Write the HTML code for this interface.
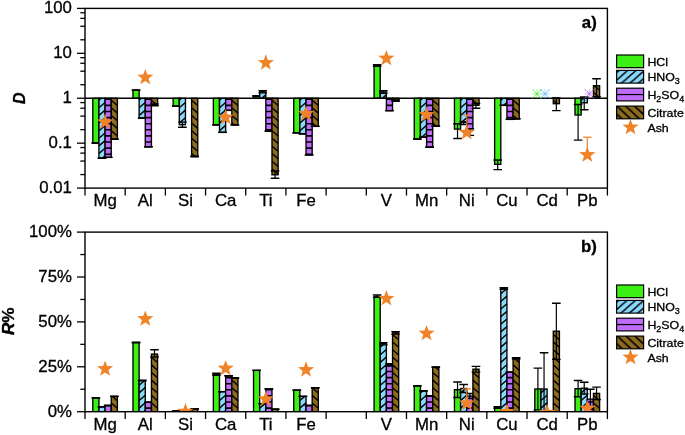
<!DOCTYPE html><html><head><meta charset="utf-8"><style>html,body{margin:0;padding:0;background:#fff;}body{width:685px;height:435px;position:relative;overflow:hidden;font-family:"Liberation Sans",sans-serif;}</style></head><body><svg width="685" height="435" viewBox="0 0 685 435" style="position:absolute;left:0;top:0;will-change:transform">
<defs>
<pattern id="hb" patternUnits="userSpaceOnUse" width="8.80" height="7.40" x="0.00" y="0.00"><rect width="8.80" height="7.40" fill="#8ad8fa"/><path d="M-4.40,3.70 L4.40,-3.70 M-4.40,11.10 L13.20,-3.70 M4.40,11.10 L13.20,3.70" stroke="#000" stroke-width="1.35"/></pattern>
<pattern id="hbr" patternUnits="userSpaceOnUse" width="8.80" height="7.40" x="0.00" y="0.00"><rect width="8.80" height="7.40" fill="#8c6a1e"/><path d="M-4.40,3.70 L4.40,11.10 M-4.40,-3.70 L13.20,11.10 M4.40,-3.70 L13.20,3.70" stroke="#000" stroke-width="1.35"/></pattern>
<pattern id="lb" patternUnits="userSpaceOnUse" width="8.40" height="7.40" x="2.00" y="0.00"><rect width="8.40" height="7.40" fill="#8ad8fa"/><path d="M-4.20,3.70 L4.20,-3.70 M-4.20,11.10 L12.60,-3.70 M4.20,11.10 L12.60,3.70" stroke="#000" stroke-width="1.55"/></pattern>
<pattern id="lbr" patternUnits="userSpaceOnUse" width="8.80" height="8.20" x="1.50" y="0.00"><rect width="8.80" height="8.20" fill="#8c6a1e"/><path d="M-4.40,4.10 L4.40,12.30 M-4.40,-4.10 L13.20,12.30 M4.40,-4.10 L13.20,4.10" stroke="#000" stroke-width="1.55"/></pattern>
<pattern id="hp" patternUnits="userSpaceOnUse" width="6.1" height="6.1" y="2.3"><rect width="6.1" height="6.1" fill="#bf6cfa"/><path d="M0,3 H6.1" stroke="#000" stroke-width="1.3"/></pattern>
<clipPath id="c1"><rect x="85.00" y="8.40" width="522.40" height="179.70"/></clipPath>
<clipPath id="c2"><rect x="85.00" y="232.10" width="522.40" height="179.60"/></clipPath>
</defs>
<rect width="685" height="435" fill="#fff"/>
<g clip-path="url(#c1)">
<rect x="92.79" y="98.30" width="6.15" height="44.70" fill="#3cf014"/><rect x="92.79" y="98.30" width="6.15" height="44.70" fill="none" stroke="#000" stroke-width="1.35"/><line x1="95.87" y1="143.00" x2="95.87" y2="143.00" stroke="#000" stroke-width="1.2"/><line x1="91.57" y1="143.00" x2="100.17" y2="143.00" stroke="#000" stroke-width="1.4"/><line x1="91.57" y1="143.00" x2="100.17" y2="143.00" stroke="#000" stroke-width="1.4"/>
<rect x="98.94" y="98.30" width="6.15" height="60.00" fill="#8ad8fa"/><line x1="98.94" y1="100.18" x2="101.13" y2="98.30" stroke="#000" stroke-width="1.40"/><line x1="98.94" y1="107.80" x2="105.09" y2="102.51" stroke="#000" stroke-width="1.40"/><line x1="98.94" y1="115.42" x2="105.09" y2="110.13" stroke="#000" stroke-width="1.40"/><line x1="98.94" y1="123.04" x2="105.09" y2="117.75" stroke="#000" stroke-width="1.40"/><line x1="98.94" y1="130.66" x2="105.09" y2="125.37" stroke="#000" stroke-width="1.40"/><line x1="98.94" y1="138.28" x2="105.09" y2="132.99" stroke="#000" stroke-width="1.40"/><line x1="98.94" y1="145.90" x2="105.09" y2="140.61" stroke="#000" stroke-width="1.40"/><line x1="98.94" y1="153.52" x2="105.09" y2="148.23" stroke="#000" stroke-width="1.40"/><line x1="102.24" y1="158.30" x2="105.09" y2="155.85" stroke="#000" stroke-width="1.40"/><rect x="98.94" y="98.30" width="6.15" height="60.00" fill="none" stroke="#000" stroke-width="1.35"/><line x1="102.02" y1="158.30" x2="102.02" y2="158.30" stroke="#000" stroke-width="1.2"/><line x1="97.72" y1="158.30" x2="106.32" y2="158.30" stroke="#000" stroke-width="1.4"/><line x1="97.72" y1="158.30" x2="106.32" y2="158.30" stroke="#000" stroke-width="1.4"/>
<rect x="105.09" y="98.30" width="6.15" height="59.10" fill="#bf6cfa"/><line x1="105.09" y1="99.30" x2="111.24" y2="99.30" stroke="#000" stroke-width="1.60"/><line x1="105.09" y1="105.40" x2="111.24" y2="105.40" stroke="#000" stroke-width="1.60"/><line x1="105.09" y1="111.50" x2="111.24" y2="111.50" stroke="#000" stroke-width="1.60"/><line x1="105.09" y1="117.60" x2="111.24" y2="117.60" stroke="#000" stroke-width="1.60"/><line x1="105.09" y1="123.70" x2="111.24" y2="123.70" stroke="#000" stroke-width="1.60"/><line x1="105.09" y1="129.80" x2="111.24" y2="129.80" stroke="#000" stroke-width="1.60"/><line x1="105.09" y1="135.90" x2="111.24" y2="135.90" stroke="#000" stroke-width="1.60"/><line x1="105.09" y1="142.00" x2="111.24" y2="142.00" stroke="#000" stroke-width="1.60"/><line x1="105.09" y1="148.10" x2="111.24" y2="148.10" stroke="#000" stroke-width="1.60"/><line x1="105.09" y1="154.20" x2="111.24" y2="154.20" stroke="#000" stroke-width="1.60"/><rect x="105.09" y="98.30" width="6.15" height="59.10" fill="none" stroke="#000" stroke-width="1.35"/><line x1="108.17" y1="157.40" x2="108.17" y2="157.40" stroke="#000" stroke-width="1.2"/><line x1="103.87" y1="157.40" x2="112.47" y2="157.40" stroke="#000" stroke-width="1.4"/><line x1="103.87" y1="157.40" x2="112.47" y2="157.40" stroke="#000" stroke-width="1.4"/>
<rect x="111.24" y="98.30" width="6.15" height="40.90" fill="#8c6a1e"/><line x1="111.24" y1="100.20" x2="117.39" y2="105.49" stroke="#000" stroke-width="1.40"/><line x1="111.24" y1="107.82" x2="117.39" y2="113.11" stroke="#000" stroke-width="1.40"/><line x1="111.24" y1="115.44" x2="117.39" y2="120.73" stroke="#000" stroke-width="1.40"/><line x1="111.24" y1="123.06" x2="117.39" y2="128.35" stroke="#000" stroke-width="1.40"/><line x1="111.24" y1="130.68" x2="117.39" y2="135.97" stroke="#000" stroke-width="1.40"/><line x1="111.24" y1="138.30" x2="112.29" y2="139.20" stroke="#000" stroke-width="1.40"/><rect x="111.24" y="98.30" width="6.15" height="40.90" fill="none" stroke="#000" stroke-width="1.35"/><line x1="114.32" y1="139.20" x2="114.32" y2="139.20" stroke="#000" stroke-width="1.2"/><line x1="110.02" y1="139.20" x2="118.62" y2="139.20" stroke="#000" stroke-width="1.4"/><line x1="110.02" y1="139.20" x2="118.62" y2="139.20" stroke="#000" stroke-width="1.4"/>
<rect x="132.98" y="90.10" width="6.15" height="8.20" fill="#3cf014"/><rect x="132.98" y="90.10" width="6.15" height="8.20" fill="none" stroke="#000" stroke-width="1.35"/><line x1="136.05" y1="90.10" x2="136.05" y2="90.10" stroke="#000" stroke-width="1.2"/><line x1="131.75" y1="90.10" x2="140.35" y2="90.10" stroke="#000" stroke-width="1.4"/><line x1="131.75" y1="90.10" x2="140.35" y2="90.10" stroke="#000" stroke-width="1.4"/>
<rect x="139.13" y="98.30" width="6.15" height="19.80" fill="#8ad8fa"/><line x1="139.13" y1="100.18" x2="141.31" y2="98.30" stroke="#000" stroke-width="1.40"/><line x1="139.13" y1="107.80" x2="145.28" y2="102.51" stroke="#000" stroke-width="1.40"/><line x1="139.13" y1="115.42" x2="145.28" y2="110.13" stroke="#000" stroke-width="1.40"/><line x1="144.87" y1="118.10" x2="145.28" y2="117.75" stroke="#000" stroke-width="1.40"/><rect x="139.13" y="98.30" width="6.15" height="19.80" fill="none" stroke="#000" stroke-width="1.35"/><line x1="142.20" y1="118.10" x2="142.20" y2="118.10" stroke="#000" stroke-width="1.2"/><line x1="137.90" y1="118.10" x2="146.50" y2="118.10" stroke="#000" stroke-width="1.4"/><line x1="137.90" y1="118.10" x2="146.50" y2="118.10" stroke="#000" stroke-width="1.4"/>
<rect x="145.28" y="98.30" width="6.15" height="48.40" fill="#bf6cfa"/><line x1="145.28" y1="99.30" x2="151.43" y2="99.30" stroke="#000" stroke-width="1.60"/><line x1="145.28" y1="105.40" x2="151.43" y2="105.40" stroke="#000" stroke-width="1.60"/><line x1="145.28" y1="111.50" x2="151.43" y2="111.50" stroke="#000" stroke-width="1.60"/><line x1="145.28" y1="117.60" x2="151.43" y2="117.60" stroke="#000" stroke-width="1.60"/><line x1="145.28" y1="123.70" x2="151.43" y2="123.70" stroke="#000" stroke-width="1.60"/><line x1="145.28" y1="129.80" x2="151.43" y2="129.80" stroke="#000" stroke-width="1.60"/><line x1="145.28" y1="135.90" x2="151.43" y2="135.90" stroke="#000" stroke-width="1.60"/><line x1="145.28" y1="142.00" x2="151.43" y2="142.00" stroke="#000" stroke-width="1.60"/><rect x="145.28" y="98.30" width="6.15" height="48.40" fill="none" stroke="#000" stroke-width="1.35"/><line x1="148.35" y1="146.70" x2="148.35" y2="146.70" stroke="#000" stroke-width="1.2"/><line x1="144.05" y1="146.70" x2="152.65" y2="146.70" stroke="#000" stroke-width="1.4"/><line x1="144.05" y1="146.70" x2="152.65" y2="146.70" stroke="#000" stroke-width="1.4"/>
<rect x="151.43" y="98.30" width="6.15" height="6.40" fill="#8c6a1e"/><line x1="151.43" y1="100.20" x2="156.66" y2="104.70" stroke="#000" stroke-width="1.40"/><rect x="151.43" y="98.30" width="6.15" height="6.40" fill="none" stroke="#000" stroke-width="1.35"/><line x1="154.50" y1="103.90" x2="154.50" y2="105.70" stroke="#000" stroke-width="1.2"/><line x1="150.20" y1="103.90" x2="158.80" y2="103.90" stroke="#000" stroke-width="1.4"/><line x1="150.20" y1="105.70" x2="158.80" y2="105.70" stroke="#000" stroke-width="1.4"/>
<rect x="173.16" y="98.30" width="6.15" height="8.00" fill="#3cf014"/><rect x="173.16" y="98.30" width="6.15" height="8.00" fill="none" stroke="#000" stroke-width="1.35"/><line x1="176.24" y1="106.30" x2="176.24" y2="106.30" stroke="#000" stroke-width="1.2"/><line x1="171.94" y1="106.30" x2="180.54" y2="106.30" stroke="#000" stroke-width="1.4"/><line x1="171.94" y1="106.30" x2="180.54" y2="106.30" stroke="#000" stroke-width="1.4"/>
<rect x="179.31" y="98.30" width="6.15" height="26.40" fill="#8ad8fa"/><line x1="179.31" y1="100.18" x2="181.50" y2="98.30" stroke="#000" stroke-width="1.40"/><line x1="179.31" y1="107.80" x2="185.46" y2="102.51" stroke="#000" stroke-width="1.40"/><line x1="179.31" y1="115.42" x2="185.46" y2="110.13" stroke="#000" stroke-width="1.40"/><line x1="179.31" y1="123.04" x2="185.46" y2="117.75" stroke="#000" stroke-width="1.40"/><rect x="179.31" y="98.30" width="6.15" height="26.40" fill="none" stroke="#000" stroke-width="1.35"/><line x1="182.39" y1="122.10" x2="182.39" y2="127.20" stroke="#000" stroke-width="1.2"/><line x1="178.09" y1="122.10" x2="186.69" y2="122.10" stroke="#000" stroke-width="1.4"/><line x1="178.09" y1="127.20" x2="186.69" y2="127.20" stroke="#000" stroke-width="1.4"/>
<rect x="191.61" y="98.30" width="6.15" height="58.20" fill="#8c6a1e"/><line x1="191.61" y1="100.20" x2="197.76" y2="105.49" stroke="#000" stroke-width="1.40"/><line x1="191.61" y1="107.82" x2="197.76" y2="113.11" stroke="#000" stroke-width="1.40"/><line x1="191.61" y1="115.44" x2="197.76" y2="120.73" stroke="#000" stroke-width="1.40"/><line x1="191.61" y1="123.06" x2="197.76" y2="128.35" stroke="#000" stroke-width="1.40"/><line x1="191.61" y1="130.68" x2="197.76" y2="135.97" stroke="#000" stroke-width="1.40"/><line x1="191.61" y1="138.30" x2="197.76" y2="143.59" stroke="#000" stroke-width="1.40"/><line x1="191.61" y1="145.92" x2="197.76" y2="151.21" stroke="#000" stroke-width="1.40"/><line x1="191.61" y1="153.54" x2="195.05" y2="156.50" stroke="#000" stroke-width="1.40"/><rect x="191.61" y="98.30" width="6.15" height="58.20" fill="none" stroke="#000" stroke-width="1.35"/><line x1="194.69" y1="156.50" x2="194.69" y2="156.50" stroke="#000" stroke-width="1.2"/><line x1="190.39" y1="156.50" x2="198.99" y2="156.50" stroke="#000" stroke-width="1.4"/><line x1="190.39" y1="156.50" x2="198.99" y2="156.50" stroke="#000" stroke-width="1.4"/>
<rect x="213.35" y="98.30" width="6.15" height="26.60" fill="#3cf014"/><rect x="213.35" y="98.30" width="6.15" height="26.60" fill="none" stroke="#000" stroke-width="1.35"/><line x1="216.42" y1="124.90" x2="216.42" y2="124.90" stroke="#000" stroke-width="1.2"/><line x1="212.12" y1="124.90" x2="220.72" y2="124.90" stroke="#000" stroke-width="1.4"/><line x1="212.12" y1="124.90" x2="220.72" y2="124.90" stroke="#000" stroke-width="1.4"/>
<rect x="219.50" y="98.30" width="6.15" height="34.10" fill="#8ad8fa"/><line x1="219.50" y1="100.18" x2="221.68" y2="98.30" stroke="#000" stroke-width="1.40"/><line x1="219.50" y1="107.80" x2="225.65" y2="102.51" stroke="#000" stroke-width="1.40"/><line x1="219.50" y1="115.42" x2="225.65" y2="110.13" stroke="#000" stroke-width="1.40"/><line x1="219.50" y1="123.04" x2="225.65" y2="117.75" stroke="#000" stroke-width="1.40"/><line x1="219.50" y1="130.66" x2="225.65" y2="125.37" stroke="#000" stroke-width="1.40"/><rect x="219.50" y="98.30" width="6.15" height="34.10" fill="none" stroke="#000" stroke-width="1.35"/><line x1="222.57" y1="132.40" x2="222.57" y2="132.40" stroke="#000" stroke-width="1.2"/><line x1="218.27" y1="132.40" x2="226.87" y2="132.40" stroke="#000" stroke-width="1.4"/><line x1="218.27" y1="132.40" x2="226.87" y2="132.40" stroke="#000" stroke-width="1.4"/>
<rect x="225.65" y="98.30" width="6.15" height="12.10" fill="#bf6cfa"/><line x1="225.65" y1="99.30" x2="231.80" y2="99.30" stroke="#000" stroke-width="1.60"/><line x1="225.65" y1="105.40" x2="231.80" y2="105.40" stroke="#000" stroke-width="1.60"/><rect x="225.65" y="98.30" width="6.15" height="12.10" fill="none" stroke="#000" stroke-width="1.35"/><line x1="228.72" y1="110.40" x2="228.72" y2="110.40" stroke="#000" stroke-width="1.2"/><line x1="224.42" y1="110.40" x2="233.02" y2="110.40" stroke="#000" stroke-width="1.4"/><line x1="224.42" y1="110.40" x2="233.02" y2="110.40" stroke="#000" stroke-width="1.4"/>
<rect x="231.80" y="98.30" width="6.15" height="26.60" fill="#8c6a1e"/><line x1="231.80" y1="100.20" x2="237.95" y2="105.49" stroke="#000" stroke-width="1.40"/><line x1="231.80" y1="107.82" x2="237.95" y2="113.11" stroke="#000" stroke-width="1.40"/><line x1="231.80" y1="115.44" x2="237.95" y2="120.73" stroke="#000" stroke-width="1.40"/><line x1="231.80" y1="123.06" x2="233.94" y2="124.90" stroke="#000" stroke-width="1.40"/><rect x="231.80" y="98.30" width="6.15" height="26.60" fill="none" stroke="#000" stroke-width="1.35"/><line x1="234.87" y1="124.90" x2="234.87" y2="124.90" stroke="#000" stroke-width="1.2"/><line x1="230.57" y1="124.90" x2="239.17" y2="124.90" stroke="#000" stroke-width="1.4"/><line x1="230.57" y1="124.90" x2="239.17" y2="124.90" stroke="#000" stroke-width="1.4"/>
<rect x="253.53" y="96.00" width="6.15" height="2.30" fill="#3cf014"/><rect x="253.53" y="96.00" width="6.15" height="2.30" fill="none" stroke="#000" stroke-width="1.35"/><line x1="256.61" y1="96.00" x2="256.61" y2="96.00" stroke="#000" stroke-width="1.2"/><line x1="252.31" y1="96.00" x2="260.91" y2="96.00" stroke="#000" stroke-width="1.4"/><line x1="252.31" y1="96.00" x2="260.91" y2="96.00" stroke="#000" stroke-width="1.4"/>
<rect x="259.68" y="91.80" width="6.15" height="6.50" fill="#8ad8fa"/><line x1="259.68" y1="92.56" x2="260.56" y2="91.80" stroke="#000" stroke-width="1.40"/><line x1="261.87" y1="98.30" x2="265.83" y2="94.89" stroke="#000" stroke-width="1.40"/><rect x="259.68" y="91.80" width="6.15" height="6.50" fill="none" stroke="#000" stroke-width="1.35"/><line x1="262.76" y1="90.60" x2="262.76" y2="92.90" stroke="#000" stroke-width="1.2"/><line x1="258.46" y1="90.60" x2="267.06" y2="90.60" stroke="#000" stroke-width="1.4"/><line x1="258.46" y1="92.90" x2="267.06" y2="92.90" stroke="#000" stroke-width="1.4"/>
<rect x="265.83" y="98.30" width="6.15" height="32.80" fill="#bf6cfa"/><line x1="265.83" y1="99.30" x2="271.98" y2="99.30" stroke="#000" stroke-width="1.60"/><line x1="265.83" y1="105.40" x2="271.98" y2="105.40" stroke="#000" stroke-width="1.60"/><line x1="265.83" y1="111.50" x2="271.98" y2="111.50" stroke="#000" stroke-width="1.60"/><line x1="265.83" y1="117.60" x2="271.98" y2="117.60" stroke="#000" stroke-width="1.60"/><line x1="265.83" y1="123.70" x2="271.98" y2="123.70" stroke="#000" stroke-width="1.60"/><line x1="265.83" y1="129.80" x2="271.98" y2="129.80" stroke="#000" stroke-width="1.60"/><rect x="265.83" y="98.30" width="6.15" height="32.80" fill="none" stroke="#000" stroke-width="1.35"/><line x1="268.91" y1="131.10" x2="268.91" y2="131.10" stroke="#000" stroke-width="1.2"/><line x1="264.61" y1="131.10" x2="273.21" y2="131.10" stroke="#000" stroke-width="1.4"/><line x1="264.61" y1="131.10" x2="273.21" y2="131.10" stroke="#000" stroke-width="1.4"/>
<rect x="271.98" y="98.30" width="6.15" height="76.50" fill="#8c6a1e"/><line x1="271.98" y1="100.20" x2="278.13" y2="105.49" stroke="#000" stroke-width="1.40"/><line x1="271.98" y1="107.82" x2="278.13" y2="113.11" stroke="#000" stroke-width="1.40"/><line x1="271.98" y1="115.44" x2="278.13" y2="120.73" stroke="#000" stroke-width="1.40"/><line x1="271.98" y1="123.06" x2="278.13" y2="128.35" stroke="#000" stroke-width="1.40"/><line x1="271.98" y1="130.68" x2="278.13" y2="135.97" stroke="#000" stroke-width="1.40"/><line x1="271.98" y1="138.30" x2="278.13" y2="143.59" stroke="#000" stroke-width="1.40"/><line x1="271.98" y1="145.92" x2="278.13" y2="151.21" stroke="#000" stroke-width="1.40"/><line x1="271.98" y1="153.54" x2="278.13" y2="158.83" stroke="#000" stroke-width="1.40"/><line x1="271.98" y1="161.16" x2="278.13" y2="166.45" stroke="#000" stroke-width="1.40"/><line x1="271.98" y1="168.78" x2="278.13" y2="174.07" stroke="#000" stroke-width="1.40"/><rect x="271.98" y="98.30" width="6.15" height="76.50" fill="none" stroke="#000" stroke-width="1.35"/><line x1="275.06" y1="171.00" x2="275.06" y2="178.30" stroke="#000" stroke-width="1.2"/><line x1="270.76" y1="171.00" x2="279.36" y2="171.00" stroke="#000" stroke-width="1.4"/><line x1="270.76" y1="178.30" x2="279.36" y2="178.30" stroke="#000" stroke-width="1.4"/>
<rect x="293.72" y="98.30" width="6.15" height="34.50" fill="#3cf014"/><rect x="293.72" y="98.30" width="6.15" height="34.50" fill="none" stroke="#000" stroke-width="1.35"/><line x1="296.79" y1="132.80" x2="296.79" y2="132.80" stroke="#000" stroke-width="1.2"/><line x1="292.49" y1="132.80" x2="301.09" y2="132.80" stroke="#000" stroke-width="1.4"/><line x1="292.49" y1="132.80" x2="301.09" y2="132.80" stroke="#000" stroke-width="1.4"/>
<rect x="299.87" y="98.30" width="6.15" height="35.50" fill="#8ad8fa"/><line x1="299.87" y1="100.18" x2="302.05" y2="98.30" stroke="#000" stroke-width="1.40"/><line x1="299.87" y1="107.80" x2="306.02" y2="102.51" stroke="#000" stroke-width="1.40"/><line x1="299.87" y1="115.42" x2="306.02" y2="110.13" stroke="#000" stroke-width="1.40"/><line x1="299.87" y1="123.04" x2="306.02" y2="117.75" stroke="#000" stroke-width="1.40"/><line x1="299.87" y1="130.66" x2="306.02" y2="125.37" stroke="#000" stroke-width="1.40"/><line x1="305.07" y1="133.80" x2="306.02" y2="132.99" stroke="#000" stroke-width="1.40"/><rect x="299.87" y="98.30" width="6.15" height="35.50" fill="none" stroke="#000" stroke-width="1.35"/><line x1="302.94" y1="133.80" x2="302.94" y2="133.80" stroke="#000" stroke-width="1.2"/><line x1="298.64" y1="133.80" x2="307.24" y2="133.80" stroke="#000" stroke-width="1.4"/><line x1="298.64" y1="133.80" x2="307.24" y2="133.80" stroke="#000" stroke-width="1.4"/>
<rect x="306.02" y="98.30" width="6.15" height="56.60" fill="#bf6cfa"/><line x1="306.02" y1="99.30" x2="312.17" y2="99.30" stroke="#000" stroke-width="1.60"/><line x1="306.02" y1="105.40" x2="312.17" y2="105.40" stroke="#000" stroke-width="1.60"/><line x1="306.02" y1="111.50" x2="312.17" y2="111.50" stroke="#000" stroke-width="1.60"/><line x1="306.02" y1="117.60" x2="312.17" y2="117.60" stroke="#000" stroke-width="1.60"/><line x1="306.02" y1="123.70" x2="312.17" y2="123.70" stroke="#000" stroke-width="1.60"/><line x1="306.02" y1="129.80" x2="312.17" y2="129.80" stroke="#000" stroke-width="1.60"/><line x1="306.02" y1="135.90" x2="312.17" y2="135.90" stroke="#000" stroke-width="1.60"/><line x1="306.02" y1="142.00" x2="312.17" y2="142.00" stroke="#000" stroke-width="1.60"/><line x1="306.02" y1="148.10" x2="312.17" y2="148.10" stroke="#000" stroke-width="1.60"/><line x1="306.02" y1="154.20" x2="312.17" y2="154.20" stroke="#000" stroke-width="1.60"/><rect x="306.02" y="98.30" width="6.15" height="56.60" fill="none" stroke="#000" stroke-width="1.35"/><line x1="309.09" y1="154.90" x2="309.09" y2="154.90" stroke="#000" stroke-width="1.2"/><line x1="304.79" y1="154.90" x2="313.39" y2="154.90" stroke="#000" stroke-width="1.4"/><line x1="304.79" y1="154.90" x2="313.39" y2="154.90" stroke="#000" stroke-width="1.4"/>
<rect x="312.17" y="98.30" width="6.15" height="28.10" fill="#8c6a1e"/><line x1="312.17" y1="100.20" x2="318.32" y2="105.49" stroke="#000" stroke-width="1.40"/><line x1="312.17" y1="107.82" x2="318.32" y2="113.11" stroke="#000" stroke-width="1.40"/><line x1="312.17" y1="115.44" x2="318.32" y2="120.73" stroke="#000" stroke-width="1.40"/><line x1="312.17" y1="123.06" x2="316.05" y2="126.40" stroke="#000" stroke-width="1.40"/><rect x="312.17" y="98.30" width="6.15" height="28.10" fill="none" stroke="#000" stroke-width="1.35"/><line x1="315.24" y1="126.40" x2="315.24" y2="126.40" stroke="#000" stroke-width="1.2"/><line x1="310.94" y1="126.40" x2="319.54" y2="126.40" stroke="#000" stroke-width="1.4"/><line x1="310.94" y1="126.40" x2="319.54" y2="126.40" stroke="#000" stroke-width="1.4"/>
<rect x="374.08" y="65.50" width="6.15" height="32.80" fill="#3cf014"/><rect x="374.08" y="65.50" width="6.15" height="32.80" fill="none" stroke="#000" stroke-width="1.35"/><line x1="377.16" y1="64.80" x2="377.16" y2="66.20" stroke="#000" stroke-width="1.2"/><line x1="372.86" y1="64.80" x2="381.46" y2="64.80" stroke="#000" stroke-width="1.4"/><line x1="372.86" y1="66.20" x2="381.46" y2="66.20" stroke="#000" stroke-width="1.4"/>
<rect x="380.23" y="92.00" width="6.15" height="6.30" fill="#8ad8fa"/><line x1="380.23" y1="92.56" x2="380.89" y2="92.00" stroke="#000" stroke-width="1.40"/><line x1="382.42" y1="98.30" x2="386.38" y2="94.89" stroke="#000" stroke-width="1.40"/><rect x="380.23" y="92.00" width="6.15" height="6.30" fill="none" stroke="#000" stroke-width="1.35"/><line x1="383.31" y1="90.80" x2="383.31" y2="93.30" stroke="#000" stroke-width="1.2"/><line x1="379.01" y1="90.80" x2="387.61" y2="90.80" stroke="#000" stroke-width="1.4"/><line x1="379.01" y1="93.30" x2="387.61" y2="93.30" stroke="#000" stroke-width="1.4"/>
<rect x="386.38" y="98.30" width="6.15" height="12.30" fill="#bf6cfa"/><line x1="386.38" y1="99.30" x2="392.53" y2="99.30" stroke="#000" stroke-width="1.60"/><line x1="386.38" y1="105.40" x2="392.53" y2="105.40" stroke="#000" stroke-width="1.60"/><rect x="386.38" y="98.30" width="6.15" height="12.30" fill="none" stroke="#000" stroke-width="1.35"/><line x1="389.46" y1="110.60" x2="389.46" y2="110.60" stroke="#000" stroke-width="1.2"/><line x1="385.16" y1="110.60" x2="393.76" y2="110.60" stroke="#000" stroke-width="1.4"/><line x1="385.16" y1="110.60" x2="393.76" y2="110.60" stroke="#000" stroke-width="1.4"/>
<rect x="392.53" y="98.30" width="6.15" height="2.30" fill="#8c6a1e"/><line x1="392.53" y1="100.20" x2="393.00" y2="100.60" stroke="#000" stroke-width="1.40"/><rect x="392.53" y="98.30" width="6.15" height="2.30" fill="none" stroke="#000" stroke-width="1.35"/><line x1="395.61" y1="100.00" x2="395.61" y2="101.30" stroke="#000" stroke-width="1.2"/><line x1="391.31" y1="100.00" x2="399.91" y2="100.00" stroke="#000" stroke-width="1.4"/><line x1="391.31" y1="101.30" x2="399.91" y2="101.30" stroke="#000" stroke-width="1.4"/>
<rect x="414.27" y="98.30" width="6.15" height="40.80" fill="#3cf014"/><rect x="414.27" y="98.30" width="6.15" height="40.80" fill="none" stroke="#000" stroke-width="1.35"/><line x1="417.34" y1="139.10" x2="417.34" y2="139.10" stroke="#000" stroke-width="1.2"/><line x1="413.04" y1="139.10" x2="421.64" y2="139.10" stroke="#000" stroke-width="1.4"/><line x1="413.04" y1="139.10" x2="421.64" y2="139.10" stroke="#000" stroke-width="1.4"/>
<rect x="420.42" y="98.30" width="6.15" height="38.90" fill="#8ad8fa"/><line x1="420.42" y1="100.18" x2="422.61" y2="98.30" stroke="#000" stroke-width="1.40"/><line x1="420.42" y1="107.80" x2="426.57" y2="102.51" stroke="#000" stroke-width="1.40"/><line x1="420.42" y1="115.42" x2="426.57" y2="110.13" stroke="#000" stroke-width="1.40"/><line x1="420.42" y1="123.04" x2="426.57" y2="117.75" stroke="#000" stroke-width="1.40"/><line x1="420.42" y1="130.66" x2="426.57" y2="125.37" stroke="#000" stroke-width="1.40"/><line x1="421.68" y1="137.20" x2="426.57" y2="132.99" stroke="#000" stroke-width="1.40"/><rect x="420.42" y="98.30" width="6.15" height="38.90" fill="none" stroke="#000" stroke-width="1.35"/><line x1="423.49" y1="137.20" x2="423.49" y2="137.20" stroke="#000" stroke-width="1.2"/><line x1="419.19" y1="137.20" x2="427.79" y2="137.20" stroke="#000" stroke-width="1.4"/><line x1="419.19" y1="137.20" x2="427.79" y2="137.20" stroke="#000" stroke-width="1.4"/>
<rect x="426.57" y="98.30" width="6.15" height="49.00" fill="#bf6cfa"/><line x1="426.57" y1="99.30" x2="432.72" y2="99.30" stroke="#000" stroke-width="1.60"/><line x1="426.57" y1="105.40" x2="432.72" y2="105.40" stroke="#000" stroke-width="1.60"/><line x1="426.57" y1="111.50" x2="432.72" y2="111.50" stroke="#000" stroke-width="1.60"/><line x1="426.57" y1="117.60" x2="432.72" y2="117.60" stroke="#000" stroke-width="1.60"/><line x1="426.57" y1="123.70" x2="432.72" y2="123.70" stroke="#000" stroke-width="1.60"/><line x1="426.57" y1="129.80" x2="432.72" y2="129.80" stroke="#000" stroke-width="1.60"/><line x1="426.57" y1="135.90" x2="432.72" y2="135.90" stroke="#000" stroke-width="1.60"/><line x1="426.57" y1="142.00" x2="432.72" y2="142.00" stroke="#000" stroke-width="1.60"/><rect x="426.57" y="98.30" width="6.15" height="49.00" fill="none" stroke="#000" stroke-width="1.35"/><line x1="429.64" y1="147.30" x2="429.64" y2="147.30" stroke="#000" stroke-width="1.2"/><line x1="425.34" y1="147.30" x2="433.94" y2="147.30" stroke="#000" stroke-width="1.4"/><line x1="425.34" y1="147.30" x2="433.94" y2="147.30" stroke="#000" stroke-width="1.4"/>
<rect x="432.72" y="98.30" width="6.15" height="27.90" fill="#8c6a1e"/><line x1="432.72" y1="100.20" x2="438.87" y2="105.49" stroke="#000" stroke-width="1.40"/><line x1="432.72" y1="107.82" x2="438.87" y2="113.11" stroke="#000" stroke-width="1.40"/><line x1="432.72" y1="115.44" x2="438.87" y2="120.73" stroke="#000" stroke-width="1.40"/><line x1="432.72" y1="123.06" x2="436.37" y2="126.20" stroke="#000" stroke-width="1.40"/><rect x="432.72" y="98.30" width="6.15" height="27.90" fill="none" stroke="#000" stroke-width="1.35"/><line x1="435.79" y1="126.20" x2="435.79" y2="126.20" stroke="#000" stroke-width="1.2"/><line x1="431.49" y1="126.20" x2="440.09" y2="126.20" stroke="#000" stroke-width="1.4"/><line x1="431.49" y1="126.20" x2="440.09" y2="126.20" stroke="#000" stroke-width="1.4"/>
<rect x="454.45" y="98.30" width="6.15" height="30.80" fill="#3cf014"/><rect x="454.45" y="98.30" width="6.15" height="30.80" fill="none" stroke="#000" stroke-width="1.35"/><line x1="457.53" y1="123.70" x2="457.53" y2="138.50" stroke="#000" stroke-width="1.2"/><line x1="453.23" y1="123.70" x2="461.83" y2="123.70" stroke="#000" stroke-width="1.4"/><line x1="453.23" y1="138.50" x2="461.83" y2="138.50" stroke="#000" stroke-width="1.4"/>
<rect x="460.60" y="98.30" width="6.15" height="24.40" fill="#8ad8fa"/><line x1="460.60" y1="100.18" x2="462.79" y2="98.30" stroke="#000" stroke-width="1.40"/><line x1="460.60" y1="107.80" x2="466.75" y2="102.51" stroke="#000" stroke-width="1.40"/><line x1="460.60" y1="115.42" x2="466.75" y2="110.13" stroke="#000" stroke-width="1.40"/><line x1="461.00" y1="122.70" x2="466.75" y2="117.75" stroke="#000" stroke-width="1.40"/><rect x="460.60" y="98.30" width="6.15" height="24.40" fill="none" stroke="#000" stroke-width="1.35"/><line x1="463.68" y1="121.80" x2="463.68" y2="124.60" stroke="#000" stroke-width="1.2"/><line x1="459.38" y1="121.80" x2="467.98" y2="121.80" stroke="#000" stroke-width="1.4"/><line x1="459.38" y1="124.60" x2="467.98" y2="124.60" stroke="#000" stroke-width="1.4"/>
<rect x="466.75" y="98.30" width="6.15" height="30.40" fill="#bf6cfa"/><line x1="466.75" y1="99.30" x2="472.90" y2="99.30" stroke="#000" stroke-width="1.60"/><line x1="466.75" y1="105.40" x2="472.90" y2="105.40" stroke="#000" stroke-width="1.60"/><line x1="466.75" y1="111.50" x2="472.90" y2="111.50" stroke="#000" stroke-width="1.60"/><line x1="466.75" y1="117.60" x2="472.90" y2="117.60" stroke="#000" stroke-width="1.60"/><line x1="466.75" y1="123.70" x2="472.90" y2="123.70" stroke="#000" stroke-width="1.60"/><rect x="466.75" y="98.30" width="6.15" height="30.40" fill="none" stroke="#000" stroke-width="1.35"/><line x1="469.83" y1="128.70" x2="469.83" y2="135.40" stroke="#000" stroke-width="1.2"/><line x1="465.53" y1="128.70" x2="474.13" y2="128.70" stroke="#000" stroke-width="1.4"/><line x1="465.53" y1="135.40" x2="474.13" y2="135.40" stroke="#000" stroke-width="1.4"/>
<rect x="472.90" y="98.30" width="6.15" height="6.90" fill="#8c6a1e"/><line x1="472.90" y1="100.20" x2="478.72" y2="105.20" stroke="#000" stroke-width="1.40"/><rect x="472.90" y="98.30" width="6.15" height="6.90" fill="none" stroke="#000" stroke-width="1.35"/><line x1="475.98" y1="103.40" x2="475.98" y2="108.30" stroke="#000" stroke-width="1.2"/><line x1="471.68" y1="103.40" x2="480.28" y2="103.40" stroke="#000" stroke-width="1.4"/><line x1="471.68" y1="108.30" x2="480.28" y2="108.30" stroke="#000" stroke-width="1.4"/>
<rect x="494.64" y="98.30" width="6.15" height="66.00" fill="#3cf014"/><rect x="494.64" y="98.30" width="6.15" height="66.00" fill="none" stroke="#000" stroke-width="1.35"/><line x1="497.71" y1="160.00" x2="497.71" y2="169.60" stroke="#000" stroke-width="1.2"/><line x1="493.41" y1="160.00" x2="502.01" y2="160.00" stroke="#000" stroke-width="1.4"/><line x1="493.41" y1="169.60" x2="502.01" y2="169.60" stroke="#000" stroke-width="1.4"/>
<rect x="500.79" y="98.30" width="6.15" height="7.10" fill="#8ad8fa"/><line x1="500.79" y1="100.18" x2="502.97" y2="98.30" stroke="#000" stroke-width="1.40"/><line x1="503.58" y1="105.40" x2="506.94" y2="102.51" stroke="#000" stroke-width="1.40"/><rect x="500.79" y="98.30" width="6.15" height="7.10" fill="none" stroke="#000" stroke-width="1.35"/><line x1="503.86" y1="105.40" x2="503.86" y2="105.40" stroke="#000" stroke-width="1.2"/><line x1="499.56" y1="105.40" x2="508.16" y2="105.40" stroke="#000" stroke-width="1.4"/><line x1="499.56" y1="105.40" x2="508.16" y2="105.40" stroke="#000" stroke-width="1.4"/>
<rect x="506.94" y="98.30" width="6.15" height="21.10" fill="#bf6cfa"/><line x1="506.94" y1="99.30" x2="513.09" y2="99.30" stroke="#000" stroke-width="1.60"/><line x1="506.94" y1="105.40" x2="513.09" y2="105.40" stroke="#000" stroke-width="1.60"/><line x1="506.94" y1="111.50" x2="513.09" y2="111.50" stroke="#000" stroke-width="1.60"/><line x1="506.94" y1="117.60" x2="513.09" y2="117.60" stroke="#000" stroke-width="1.60"/><rect x="506.94" y="98.30" width="6.15" height="21.10" fill="none" stroke="#000" stroke-width="1.35"/><line x1="510.01" y1="119.40" x2="510.01" y2="119.40" stroke="#000" stroke-width="1.2"/><line x1="505.71" y1="119.40" x2="514.31" y2="119.40" stroke="#000" stroke-width="1.4"/><line x1="505.71" y1="119.40" x2="514.31" y2="119.40" stroke="#000" stroke-width="1.4"/>
<rect x="513.09" y="98.30" width="6.15" height="20.50" fill="#8c6a1e"/><line x1="513.09" y1="100.20" x2="519.24" y2="105.49" stroke="#000" stroke-width="1.40"/><line x1="513.09" y1="107.82" x2="519.24" y2="113.11" stroke="#000" stroke-width="1.40"/><line x1="513.09" y1="115.44" x2="517.00" y2="118.80" stroke="#000" stroke-width="1.40"/><rect x="513.09" y="98.30" width="6.15" height="20.50" fill="none" stroke="#000" stroke-width="1.35"/><line x1="516.16" y1="118.80" x2="516.16" y2="118.80" stroke="#000" stroke-width="1.2"/><line x1="511.86" y1="118.80" x2="520.46" y2="118.80" stroke="#000" stroke-width="1.4"/><line x1="511.86" y1="118.80" x2="520.46" y2="118.80" stroke="#000" stroke-width="1.4"/>
<rect x="553.27" y="98.30" width="6.15" height="5.40" fill="#8c6a1e"/><line x1="553.27" y1="100.20" x2="557.34" y2="103.70" stroke="#000" stroke-width="1.40"/><rect x="553.27" y="98.30" width="6.15" height="5.40" fill="none" stroke="#000" stroke-width="1.35"/><line x1="556.35" y1="98.00" x2="556.35" y2="110.60" stroke="#000" stroke-width="1.2"/><line x1="552.05" y1="98.00" x2="560.65" y2="98.00" stroke="#000" stroke-width="1.4"/><line x1="552.05" y1="110.60" x2="560.65" y2="110.60" stroke="#000" stroke-width="1.4"/>
<rect x="575.01" y="98.30" width="6.15" height="16.70" fill="#3cf014"/><rect x="575.01" y="98.30" width="6.15" height="16.70" fill="none" stroke="#000" stroke-width="1.35"/><line x1="578.08" y1="104.50" x2="578.08" y2="140.10" stroke="#000" stroke-width="1.2"/><line x1="573.78" y1="104.50" x2="582.38" y2="104.50" stroke="#000" stroke-width="1.4"/><line x1="573.78" y1="140.10" x2="582.38" y2="140.10" stroke="#000" stroke-width="1.4"/>
<rect x="581.16" y="98.30" width="6.15" height="4.50" fill="#8ad8fa"/><line x1="581.16" y1="100.18" x2="583.34" y2="98.30" stroke="#000" stroke-width="1.40"/><line x1="586.97" y1="102.80" x2="587.31" y2="102.51" stroke="#000" stroke-width="1.40"/><rect x="581.16" y="98.30" width="6.15" height="4.50" fill="none" stroke="#000" stroke-width="1.35"/><line x1="584.23" y1="97.00" x2="584.23" y2="109.70" stroke="#000" stroke-width="1.2"/><line x1="579.93" y1="97.00" x2="588.53" y2="97.00" stroke="#000" stroke-width="1.4"/><line x1="579.93" y1="109.70" x2="588.53" y2="109.70" stroke="#000" stroke-width="1.4"/>
<rect x="593.46" y="85.70" width="6.15" height="12.60" fill="#8c6a1e"/><line x1="594.32" y1="85.70" x2="599.61" y2="90.25" stroke="#000" stroke-width="1.40"/><line x1="593.46" y1="92.58" x2="599.61" y2="97.87" stroke="#000" stroke-width="1.40"/><rect x="593.46" y="85.70" width="6.15" height="12.60" fill="none" stroke="#000" stroke-width="1.35"/><line x1="596.53" y1="78.80" x2="596.53" y2="96.60" stroke="#000" stroke-width="1.2"/><line x1="592.23" y1="78.80" x2="600.83" y2="78.80" stroke="#000" stroke-width="1.4"/><line x1="592.23" y1="96.60" x2="600.83" y2="96.60" stroke="#000" stroke-width="1.4"/>
</g>
<line x1="85.00" y1="98.30" x2="607.40" y2="98.30" stroke="#000" stroke-width="1.4"/>
<line x1="532.20" y1="89.10" x2="541.60" y2="98.50" stroke="#3ceb28" stroke-width="0.85" stroke-opacity="1.00"/><line x1="532.20" y1="98.50" x2="541.60" y2="89.10" stroke="#3ceb28" stroke-width="0.85" stroke-opacity="1.00"/><line x1="532.20" y1="93.80" x2="541.60" y2="93.80" stroke="#3ceb28" stroke-width="0.90" stroke-opacity="0.55"/><line x1="536.90" y1="89.10" x2="536.90" y2="98.50" stroke="#3ceb28" stroke-width="0.90" stroke-opacity="0.55"/>
<line x1="540.30" y1="89.10" x2="549.70" y2="98.50" stroke="#5ab4fa" stroke-width="0.85" stroke-opacity="1.00"/><line x1="540.30" y1="98.50" x2="549.70" y2="89.10" stroke="#5ab4fa" stroke-width="0.85" stroke-opacity="1.00"/><line x1="540.30" y1="93.80" x2="549.70" y2="93.80" stroke="#5ab4fa" stroke-width="0.90" stroke-opacity="0.55"/><line x1="545.00" y1="89.10" x2="545.00" y2="98.50" stroke="#5ab4fa" stroke-width="0.90" stroke-opacity="0.55"/>
<line x1="584.70" y1="89.10" x2="594.10" y2="98.50" stroke="#a55af5" stroke-width="0.85" stroke-opacity="1.00"/><line x1="584.70" y1="98.50" x2="594.10" y2="89.10" stroke="#a55af5" stroke-width="0.85" stroke-opacity="1.00"/><line x1="584.70" y1="93.80" x2="594.10" y2="93.80" stroke="#a55af5" stroke-width="0.90" stroke-opacity="0.55"/><line x1="589.40" y1="89.10" x2="589.40" y2="98.50" stroke="#a55af5" stroke-width="0.90" stroke-opacity="0.55"/>
<line x1="466.75" y1="115.00" x2="466.75" y2="132.40" stroke="#f08228" stroke-width="1.2"/><line x1="462.55" y1="115.00" x2="470.95" y2="115.00" stroke="#f08228" stroke-width="1.2"/>
<line x1="587.31" y1="137.20" x2="587.31" y2="154.50" stroke="#f08228" stroke-width="1.2"/><line x1="583.11" y1="137.20" x2="591.51" y2="137.20" stroke="#f08228" stroke-width="1.2"/>
<polygon points="105.09,113.60 107.14,119.28 113.18,119.47 108.41,123.18 110.09,128.98 105.09,125.58 100.10,128.98 101.78,123.18 97.01,119.47 103.04,119.28" fill="#f08228" stroke="none"/>
<polygon points="145.28,68.90 147.33,74.58 153.36,74.77 148.59,78.48 150.27,84.28 145.28,80.89 140.28,84.28 141.96,78.48 137.19,74.77 143.23,74.58" fill="#f08228" stroke="none"/>
<polygon points="225.65,108.90 227.69,114.58 233.73,114.77 228.96,118.48 230.64,124.28 225.65,120.89 220.65,124.28 222.33,118.48 217.56,114.77 223.60,114.58" fill="#f08228" stroke="none"/>
<polygon points="265.83,54.30 267.88,59.98 273.91,60.17 269.15,63.88 270.83,69.68 265.83,66.28 260.83,69.68 262.52,63.88 257.75,60.17 263.78,59.98" fill="#f08228" stroke="none"/>
<polygon points="306.02,105.20 308.06,110.88 314.10,111.07 309.33,114.78 311.01,120.58 306.02,117.19 301.02,120.58 302.70,114.78 297.93,111.07 303.97,110.88" fill="#f08228" stroke="none"/>
<polygon points="386.38,49.90 388.43,55.58 394.47,55.77 389.70,59.48 391.38,65.28 386.38,61.88 381.39,65.28 383.07,59.48 378.30,55.77 384.34,55.58" fill="#f08228" stroke="none"/>
<polygon points="426.57,106.30 428.62,111.98 434.65,112.17 429.88,115.88 431.57,121.68 426.57,118.28 421.57,121.68 423.25,115.88 418.49,112.17 424.52,111.98" fill="#f08228" stroke="none"/>
<polygon points="466.75,124.10 468.80,129.78 474.84,129.97 470.07,133.68 471.75,139.48 466.75,136.09 461.76,139.48 463.44,133.68 458.67,129.97 464.71,129.78" fill="#f08228" stroke="none"/>
<polygon points="587.31,146.40 589.36,152.08 595.39,152.27 590.62,155.98 592.30,161.78 587.31,158.39 582.31,161.78 583.99,155.98 579.22,152.27 585.26,152.08" fill="#f08228" stroke="none"/>
<g clip-path="url(#c2)">
<rect x="92.79" y="397.90" width="6.15" height="13.80" fill="#3cf014"/><rect x="92.79" y="397.90" width="6.15" height="13.80" fill="none" stroke="#000" stroke-width="1.35"/><line x1="95.87" y1="397.90" x2="95.87" y2="397.90" stroke="#000" stroke-width="1.2"/><line x1="91.57" y1="397.90" x2="100.17" y2="397.90" stroke="#000" stroke-width="1.4"/><line x1="91.57" y1="397.90" x2="100.17" y2="397.90" stroke="#000" stroke-width="1.4"/>
<rect x="98.94" y="406.80" width="6.15" height="4.90" fill="#8ad8fa"/><line x1="98.94" y1="408.10" x2="100.45" y2="406.80" stroke="#000" stroke-width="1.40"/><line x1="103.62" y1="411.70" x2="105.09" y2="410.43" stroke="#000" stroke-width="1.40"/><rect x="98.94" y="406.80" width="6.15" height="4.90" fill="none" stroke="#000" stroke-width="1.35"/><line x1="102.02" y1="406.80" x2="102.02" y2="406.80" stroke="#000" stroke-width="1.2"/><line x1="97.72" y1="406.80" x2="106.32" y2="406.80" stroke="#000" stroke-width="1.4"/><line x1="97.72" y1="406.80" x2="106.32" y2="406.80" stroke="#000" stroke-width="1.4"/>
<rect x="105.09" y="405.50" width="6.15" height="6.20" fill="#bf6cfa"/><rect x="105.09" y="405.50" width="6.15" height="6.20" fill="none" stroke="#000" stroke-width="1.35"/><line x1="108.17" y1="405.50" x2="108.17" y2="405.50" stroke="#000" stroke-width="1.2"/><line x1="103.87" y1="405.50" x2="112.47" y2="405.50" stroke="#000" stroke-width="1.4"/><line x1="103.87" y1="405.50" x2="112.47" y2="405.50" stroke="#000" stroke-width="1.4"/>
<rect x="111.24" y="396.40" width="6.15" height="15.30" fill="#8c6a1e"/><line x1="112.43" y1="396.40" x2="117.39" y2="400.67" stroke="#000" stroke-width="1.40"/><line x1="111.24" y1="403.00" x2="117.39" y2="408.29" stroke="#000" stroke-width="1.40"/><line x1="111.24" y1="410.62" x2="112.50" y2="411.70" stroke="#000" stroke-width="1.40"/><rect x="111.24" y="396.40" width="6.15" height="15.30" fill="none" stroke="#000" stroke-width="1.35"/><line x1="114.32" y1="396.40" x2="114.32" y2="396.40" stroke="#000" stroke-width="1.2"/><line x1="110.02" y1="396.40" x2="118.62" y2="396.40" stroke="#000" stroke-width="1.4"/><line x1="110.02" y1="396.40" x2="118.62" y2="396.40" stroke="#000" stroke-width="1.4"/>
<rect x="132.98" y="342.50" width="6.15" height="69.20" fill="#3cf014"/><rect x="132.98" y="342.50" width="6.15" height="69.20" fill="none" stroke="#000" stroke-width="1.35"/><line x1="136.05" y1="342.50" x2="136.05" y2="342.50" stroke="#000" stroke-width="1.2"/><line x1="131.75" y1="342.50" x2="140.35" y2="342.50" stroke="#000" stroke-width="1.4"/><line x1="131.75" y1="342.50" x2="140.35" y2="342.50" stroke="#000" stroke-width="1.4"/>
<rect x="139.13" y="380.50" width="6.15" height="31.20" fill="#8ad8fa"/><line x1="139.13" y1="385.24" x2="144.64" y2="380.50" stroke="#000" stroke-width="1.40"/><line x1="139.13" y1="392.86" x2="145.28" y2="387.57" stroke="#000" stroke-width="1.40"/><line x1="139.13" y1="400.48" x2="145.28" y2="395.19" stroke="#000" stroke-width="1.40"/><line x1="139.13" y1="408.10" x2="145.28" y2="402.81" stroke="#000" stroke-width="1.40"/><line x1="143.80" y1="411.70" x2="145.28" y2="410.43" stroke="#000" stroke-width="1.40"/><rect x="139.13" y="380.50" width="6.15" height="31.20" fill="none" stroke="#000" stroke-width="1.35"/><line x1="142.20" y1="380.50" x2="142.20" y2="380.50" stroke="#000" stroke-width="1.2"/><line x1="137.90" y1="380.50" x2="146.50" y2="380.50" stroke="#000" stroke-width="1.4"/><line x1="137.90" y1="380.50" x2="146.50" y2="380.50" stroke="#000" stroke-width="1.4"/>
<rect x="145.28" y="402.30" width="6.15" height="9.40" fill="#bf6cfa"/><line x1="145.28" y1="408.10" x2="151.43" y2="408.10" stroke="#000" stroke-width="1.60"/><rect x="145.28" y="402.30" width="6.15" height="9.40" fill="none" stroke="#000" stroke-width="1.35"/><line x1="148.35" y1="402.30" x2="148.35" y2="402.30" stroke="#000" stroke-width="1.2"/><line x1="144.05" y1="402.30" x2="152.65" y2="402.30" stroke="#000" stroke-width="1.4"/><line x1="144.05" y1="402.30" x2="152.65" y2="402.30" stroke="#000" stroke-width="1.4"/>
<rect x="151.43" y="354.10" width="6.15" height="57.60" fill="#8c6a1e"/><line x1="156.59" y1="354.10" x2="157.58" y2="354.95" stroke="#000" stroke-width="1.40"/><line x1="151.43" y1="357.28" x2="157.58" y2="362.57" stroke="#000" stroke-width="1.40"/><line x1="151.43" y1="364.90" x2="157.58" y2="370.19" stroke="#000" stroke-width="1.40"/><line x1="151.43" y1="372.52" x2="157.58" y2="377.81" stroke="#000" stroke-width="1.40"/><line x1="151.43" y1="380.14" x2="157.58" y2="385.43" stroke="#000" stroke-width="1.40"/><line x1="151.43" y1="387.76" x2="157.58" y2="393.05" stroke="#000" stroke-width="1.40"/><line x1="151.43" y1="395.38" x2="157.58" y2="400.67" stroke="#000" stroke-width="1.40"/><line x1="151.43" y1="403.00" x2="157.58" y2="408.29" stroke="#000" stroke-width="1.40"/><line x1="151.43" y1="410.62" x2="152.68" y2="411.70" stroke="#000" stroke-width="1.40"/><rect x="151.43" y="354.10" width="6.15" height="57.60" fill="none" stroke="#000" stroke-width="1.35"/><line x1="154.50" y1="349.80" x2="154.50" y2="357.00" stroke="#000" stroke-width="1.2"/><line x1="150.20" y1="349.80" x2="158.80" y2="349.80" stroke="#000" stroke-width="1.4"/><line x1="150.20" y1="357.00" x2="158.80" y2="357.00" stroke="#000" stroke-width="1.4"/>
<rect x="173.16" y="411.00" width="6.15" height="0.70" fill="#3cf014"/><rect x="173.16" y="411.00" width="6.15" height="0.70" fill="none" stroke="#000" stroke-width="1.35"/><line x1="176.24" y1="411.00" x2="176.24" y2="411.00" stroke="#000" stroke-width="1.2"/><line x1="171.94" y1="411.00" x2="180.54" y2="411.00" stroke="#000" stroke-width="1.4"/><line x1="171.94" y1="411.00" x2="180.54" y2="411.00" stroke="#000" stroke-width="1.4"/>
<rect x="179.31" y="411.00" width="6.15" height="0.70" fill="#8ad8fa"/><line x1="183.99" y1="411.70" x2="184.80" y2="411.00" stroke="#000" stroke-width="1.40"/><rect x="179.31" y="411.00" width="6.15" height="0.70" fill="none" stroke="#000" stroke-width="1.35"/><line x1="182.39" y1="411.00" x2="182.39" y2="411.00" stroke="#000" stroke-width="1.2"/><line x1="178.09" y1="411.00" x2="186.69" y2="411.00" stroke="#000" stroke-width="1.4"/><line x1="178.09" y1="411.00" x2="186.69" y2="411.00" stroke="#000" stroke-width="1.4"/>
<rect x="191.61" y="408.70" width="6.15" height="3.00" fill="#8c6a1e"/><line x1="191.61" y1="410.62" x2="192.87" y2="411.70" stroke="#000" stroke-width="1.40"/><rect x="191.61" y="408.70" width="6.15" height="3.00" fill="none" stroke="#000" stroke-width="1.35"/><line x1="194.69" y1="408.70" x2="194.69" y2="408.70" stroke="#000" stroke-width="1.2"/><line x1="190.39" y1="408.70" x2="198.99" y2="408.70" stroke="#000" stroke-width="1.4"/><line x1="190.39" y1="408.70" x2="198.99" y2="408.70" stroke="#000" stroke-width="1.4"/>
<rect x="213.35" y="374.20" width="6.15" height="37.50" fill="#3cf014"/><rect x="213.35" y="374.20" width="6.15" height="37.50" fill="none" stroke="#000" stroke-width="1.35"/><line x1="216.42" y1="373.20" x2="216.42" y2="375.30" stroke="#000" stroke-width="1.2"/><line x1="212.12" y1="373.20" x2="220.72" y2="373.20" stroke="#000" stroke-width="1.4"/><line x1="212.12" y1="375.30" x2="220.72" y2="375.30" stroke="#000" stroke-width="1.4"/>
<rect x="219.50" y="391.60" width="6.15" height="20.10" fill="#8ad8fa"/><line x1="219.50" y1="392.86" x2="220.96" y2="391.60" stroke="#000" stroke-width="1.40"/><line x1="219.50" y1="400.48" x2="225.65" y2="395.19" stroke="#000" stroke-width="1.40"/><line x1="219.50" y1="408.10" x2="225.65" y2="402.81" stroke="#000" stroke-width="1.40"/><line x1="224.17" y1="411.70" x2="225.65" y2="410.43" stroke="#000" stroke-width="1.40"/><rect x="219.50" y="391.60" width="6.15" height="20.10" fill="none" stroke="#000" stroke-width="1.35"/><line x1="222.57" y1="391.60" x2="222.57" y2="391.60" stroke="#000" stroke-width="1.2"/><line x1="218.27" y1="391.60" x2="226.87" y2="391.60" stroke="#000" stroke-width="1.4"/><line x1="218.27" y1="391.60" x2="226.87" y2="391.60" stroke="#000" stroke-width="1.4"/>
<rect x="225.65" y="375.70" width="6.15" height="36.00" fill="#bf6cfa"/><line x1="225.65" y1="377.60" x2="231.80" y2="377.60" stroke="#000" stroke-width="1.60"/><line x1="225.65" y1="383.70" x2="231.80" y2="383.70" stroke="#000" stroke-width="1.60"/><line x1="225.65" y1="389.80" x2="231.80" y2="389.80" stroke="#000" stroke-width="1.60"/><line x1="225.65" y1="395.90" x2="231.80" y2="395.90" stroke="#000" stroke-width="1.60"/><line x1="225.65" y1="402.00" x2="231.80" y2="402.00" stroke="#000" stroke-width="1.60"/><line x1="225.65" y1="408.10" x2="231.80" y2="408.10" stroke="#000" stroke-width="1.60"/><rect x="225.65" y="375.70" width="6.15" height="36.00" fill="none" stroke="#000" stroke-width="1.35"/><line x1="228.72" y1="375.70" x2="228.72" y2="375.70" stroke="#000" stroke-width="1.2"/><line x1="224.42" y1="375.70" x2="233.02" y2="375.70" stroke="#000" stroke-width="1.4"/><line x1="224.42" y1="375.70" x2="233.02" y2="375.70" stroke="#000" stroke-width="1.4"/>
<rect x="231.80" y="378.00" width="6.15" height="33.70" fill="#8c6a1e"/><line x1="231.80" y1="380.14" x2="237.95" y2="385.43" stroke="#000" stroke-width="1.40"/><line x1="231.80" y1="387.76" x2="237.95" y2="393.05" stroke="#000" stroke-width="1.40"/><line x1="231.80" y1="395.38" x2="237.95" y2="400.67" stroke="#000" stroke-width="1.40"/><line x1="231.80" y1="403.00" x2="237.95" y2="408.29" stroke="#000" stroke-width="1.40"/><line x1="231.80" y1="410.62" x2="233.05" y2="411.70" stroke="#000" stroke-width="1.40"/><rect x="231.80" y="378.00" width="6.15" height="33.70" fill="none" stroke="#000" stroke-width="1.35"/><line x1="234.87" y1="378.00" x2="234.87" y2="378.00" stroke="#000" stroke-width="1.2"/><line x1="230.57" y1="378.00" x2="239.17" y2="378.00" stroke="#000" stroke-width="1.4"/><line x1="230.57" y1="378.00" x2="239.17" y2="378.00" stroke="#000" stroke-width="1.4"/>
<rect x="253.53" y="370.40" width="6.15" height="41.30" fill="#3cf014"/><rect x="253.53" y="370.40" width="6.15" height="41.30" fill="none" stroke="#000" stroke-width="1.35"/><line x1="256.61" y1="370.40" x2="256.61" y2="370.40" stroke="#000" stroke-width="1.2"/><line x1="252.31" y1="370.40" x2="260.91" y2="370.40" stroke="#000" stroke-width="1.4"/><line x1="252.31" y1="370.40" x2="260.91" y2="370.40" stroke="#000" stroke-width="1.4"/>
<rect x="259.68" y="403.60" width="6.15" height="8.10" fill="#8ad8fa"/><line x1="259.68" y1="408.10" x2="264.91" y2="403.60" stroke="#000" stroke-width="1.40"/><line x1="264.36" y1="411.70" x2="265.83" y2="410.43" stroke="#000" stroke-width="1.40"/><rect x="259.68" y="403.60" width="6.15" height="8.10" fill="none" stroke="#000" stroke-width="1.35"/><line x1="262.76" y1="403.60" x2="262.76" y2="403.60" stroke="#000" stroke-width="1.2"/><line x1="258.46" y1="403.60" x2="267.06" y2="403.60" stroke="#000" stroke-width="1.4"/><line x1="258.46" y1="403.60" x2="267.06" y2="403.60" stroke="#000" stroke-width="1.4"/>
<rect x="265.83" y="389.00" width="6.15" height="22.70" fill="#bf6cfa"/><line x1="265.83" y1="389.80" x2="271.98" y2="389.80" stroke="#000" stroke-width="1.60"/><line x1="265.83" y1="395.90" x2="271.98" y2="395.90" stroke="#000" stroke-width="1.60"/><line x1="265.83" y1="402.00" x2="271.98" y2="402.00" stroke="#000" stroke-width="1.60"/><line x1="265.83" y1="408.10" x2="271.98" y2="408.10" stroke="#000" stroke-width="1.60"/><rect x="265.83" y="389.00" width="6.15" height="22.70" fill="none" stroke="#000" stroke-width="1.35"/><line x1="268.91" y1="389.00" x2="268.91" y2="389.00" stroke="#000" stroke-width="1.2"/><line x1="264.61" y1="389.00" x2="273.21" y2="389.00" stroke="#000" stroke-width="1.4"/><line x1="264.61" y1="389.00" x2="273.21" y2="389.00" stroke="#000" stroke-width="1.4"/>
<rect x="271.98" y="409.30" width="6.15" height="2.40" fill="#8c6a1e"/><line x1="271.98" y1="410.62" x2="273.24" y2="411.70" stroke="#000" stroke-width="1.40"/><rect x="271.98" y="409.30" width="6.15" height="2.40" fill="none" stroke="#000" stroke-width="1.35"/><line x1="275.06" y1="409.30" x2="275.06" y2="409.30" stroke="#000" stroke-width="1.2"/><line x1="270.76" y1="409.30" x2="279.36" y2="409.30" stroke="#000" stroke-width="1.4"/><line x1="270.76" y1="409.30" x2="279.36" y2="409.30" stroke="#000" stroke-width="1.4"/>
<rect x="293.72" y="390.30" width="6.15" height="21.40" fill="#3cf014"/><rect x="293.72" y="390.30" width="6.15" height="21.40" fill="none" stroke="#000" stroke-width="1.35"/><line x1="296.79" y1="390.30" x2="296.79" y2="390.30" stroke="#000" stroke-width="1.2"/><line x1="292.49" y1="390.30" x2="301.09" y2="390.30" stroke="#000" stroke-width="1.4"/><line x1="292.49" y1="390.30" x2="301.09" y2="390.30" stroke="#000" stroke-width="1.4"/>
<rect x="299.87" y="396.40" width="6.15" height="15.30" fill="#8ad8fa"/><line x1="299.87" y1="400.48" x2="304.61" y2="396.40" stroke="#000" stroke-width="1.40"/><line x1="299.87" y1="408.10" x2="306.02" y2="402.81" stroke="#000" stroke-width="1.40"/><line x1="304.54" y1="411.70" x2="306.02" y2="410.43" stroke="#000" stroke-width="1.40"/><rect x="299.87" y="396.40" width="6.15" height="15.30" fill="none" stroke="#000" stroke-width="1.35"/><line x1="302.94" y1="396.40" x2="302.94" y2="396.40" stroke="#000" stroke-width="1.2"/><line x1="298.64" y1="396.40" x2="307.24" y2="396.40" stroke="#000" stroke-width="1.4"/><line x1="298.64" y1="396.40" x2="307.24" y2="396.40" stroke="#000" stroke-width="1.4"/>
<rect x="306.02" y="405.50" width="6.15" height="6.20" fill="#bf6cfa"/><rect x="306.02" y="405.50" width="6.15" height="6.20" fill="none" stroke="#000" stroke-width="1.35"/><line x1="309.09" y1="405.50" x2="309.09" y2="405.50" stroke="#000" stroke-width="1.2"/><line x1="304.79" y1="405.50" x2="313.39" y2="405.50" stroke="#000" stroke-width="1.4"/><line x1="304.79" y1="405.50" x2="313.39" y2="405.50" stroke="#000" stroke-width="1.4"/>
<rect x="312.17" y="387.80" width="6.15" height="23.90" fill="#8c6a1e"/><line x1="312.21" y1="387.80" x2="318.32" y2="393.05" stroke="#000" stroke-width="1.40"/><line x1="312.17" y1="395.38" x2="318.32" y2="400.67" stroke="#000" stroke-width="1.40"/><line x1="312.17" y1="403.00" x2="318.32" y2="408.29" stroke="#000" stroke-width="1.40"/><line x1="312.17" y1="410.62" x2="313.42" y2="411.70" stroke="#000" stroke-width="1.40"/><rect x="312.17" y="387.80" width="6.15" height="23.90" fill="none" stroke="#000" stroke-width="1.35"/><line x1="315.24" y1="387.80" x2="315.24" y2="387.80" stroke="#000" stroke-width="1.2"/><line x1="310.94" y1="387.80" x2="319.54" y2="387.80" stroke="#000" stroke-width="1.4"/><line x1="310.94" y1="387.80" x2="319.54" y2="387.80" stroke="#000" stroke-width="1.4"/>
<rect x="374.08" y="296.10" width="6.15" height="115.60" fill="#3cf014"/><rect x="374.08" y="296.10" width="6.15" height="115.60" fill="none" stroke="#000" stroke-width="1.35"/><line x1="377.16" y1="294.90" x2="377.16" y2="297.40" stroke="#000" stroke-width="1.2"/><line x1="372.86" y1="294.90" x2="381.46" y2="294.90" stroke="#000" stroke-width="1.4"/><line x1="372.86" y1="297.40" x2="381.46" y2="297.40" stroke="#000" stroke-width="1.4"/>
<rect x="380.23" y="343.70" width="6.15" height="68.00" fill="#8ad8fa"/><line x1="380.23" y1="347.14" x2="384.23" y2="343.70" stroke="#000" stroke-width="1.40"/><line x1="380.23" y1="354.76" x2="386.38" y2="349.47" stroke="#000" stroke-width="1.40"/><line x1="380.23" y1="362.38" x2="386.38" y2="357.09" stroke="#000" stroke-width="1.40"/><line x1="380.23" y1="370.00" x2="386.38" y2="364.71" stroke="#000" stroke-width="1.40"/><line x1="380.23" y1="377.62" x2="386.38" y2="372.33" stroke="#000" stroke-width="1.40"/><line x1="380.23" y1="385.24" x2="386.38" y2="379.95" stroke="#000" stroke-width="1.40"/><line x1="380.23" y1="392.86" x2="386.38" y2="387.57" stroke="#000" stroke-width="1.40"/><line x1="380.23" y1="400.48" x2="386.38" y2="395.19" stroke="#000" stroke-width="1.40"/><line x1="380.23" y1="408.10" x2="386.38" y2="402.81" stroke="#000" stroke-width="1.40"/><line x1="384.91" y1="411.70" x2="386.38" y2="410.43" stroke="#000" stroke-width="1.40"/><rect x="380.23" y="343.70" width="6.15" height="68.00" fill="none" stroke="#000" stroke-width="1.35"/><line x1="383.31" y1="342.60" x2="383.31" y2="344.90" stroke="#000" stroke-width="1.2"/><line x1="379.01" y1="342.60" x2="387.61" y2="342.60" stroke="#000" stroke-width="1.4"/><line x1="379.01" y1="344.90" x2="387.61" y2="344.90" stroke="#000" stroke-width="1.4"/>
<rect x="386.38" y="364.70" width="6.15" height="47.00" fill="#bf6cfa"/><line x1="386.38" y1="365.40" x2="392.53" y2="365.40" stroke="#000" stroke-width="1.60"/><line x1="386.38" y1="371.50" x2="392.53" y2="371.50" stroke="#000" stroke-width="1.60"/><line x1="386.38" y1="377.60" x2="392.53" y2="377.60" stroke="#000" stroke-width="1.60"/><line x1="386.38" y1="383.70" x2="392.53" y2="383.70" stroke="#000" stroke-width="1.60"/><line x1="386.38" y1="389.80" x2="392.53" y2="389.80" stroke="#000" stroke-width="1.60"/><line x1="386.38" y1="395.90" x2="392.53" y2="395.90" stroke="#000" stroke-width="1.60"/><line x1="386.38" y1="402.00" x2="392.53" y2="402.00" stroke="#000" stroke-width="1.60"/><line x1="386.38" y1="408.10" x2="392.53" y2="408.10" stroke="#000" stroke-width="1.60"/><rect x="386.38" y="364.70" width="6.15" height="47.00" fill="none" stroke="#000" stroke-width="1.35"/><line x1="389.46" y1="363.60" x2="389.46" y2="366.00" stroke="#000" stroke-width="1.2"/><line x1="385.16" y1="363.60" x2="393.76" y2="363.60" stroke="#000" stroke-width="1.4"/><line x1="385.16" y1="366.00" x2="393.76" y2="366.00" stroke="#000" stroke-width="1.4"/>
<rect x="392.53" y="332.80" width="6.15" height="78.90" fill="#8c6a1e"/><line x1="392.53" y1="334.42" x2="398.68" y2="339.71" stroke="#000" stroke-width="1.40"/><line x1="392.53" y1="342.04" x2="398.68" y2="347.33" stroke="#000" stroke-width="1.40"/><line x1="392.53" y1="349.66" x2="398.68" y2="354.95" stroke="#000" stroke-width="1.40"/><line x1="392.53" y1="357.28" x2="398.68" y2="362.57" stroke="#000" stroke-width="1.40"/><line x1="392.53" y1="364.90" x2="398.68" y2="370.19" stroke="#000" stroke-width="1.40"/><line x1="392.53" y1="372.52" x2="398.68" y2="377.81" stroke="#000" stroke-width="1.40"/><line x1="392.53" y1="380.14" x2="398.68" y2="385.43" stroke="#000" stroke-width="1.40"/><line x1="392.53" y1="387.76" x2="398.68" y2="393.05" stroke="#000" stroke-width="1.40"/><line x1="392.53" y1="395.38" x2="398.68" y2="400.67" stroke="#000" stroke-width="1.40"/><line x1="392.53" y1="403.00" x2="398.68" y2="408.29" stroke="#000" stroke-width="1.40"/><line x1="392.53" y1="410.62" x2="393.79" y2="411.70" stroke="#000" stroke-width="1.40"/><rect x="392.53" y="332.80" width="6.15" height="78.90" fill="none" stroke="#000" stroke-width="1.35"/><line x1="395.61" y1="331.60" x2="395.61" y2="334.10" stroke="#000" stroke-width="1.2"/><line x1="391.31" y1="331.60" x2="399.91" y2="331.60" stroke="#000" stroke-width="1.4"/><line x1="391.31" y1="334.10" x2="399.91" y2="334.10" stroke="#000" stroke-width="1.4"/>
<rect x="414.27" y="385.90" width="6.15" height="25.80" fill="#3cf014"/><rect x="414.27" y="385.90" width="6.15" height="25.80" fill="none" stroke="#000" stroke-width="1.35"/><line x1="417.34" y1="385.90" x2="417.34" y2="385.90" stroke="#000" stroke-width="1.2"/><line x1="413.04" y1="385.90" x2="421.64" y2="385.90" stroke="#000" stroke-width="1.4"/><line x1="413.04" y1="385.90" x2="421.64" y2="385.90" stroke="#000" stroke-width="1.4"/>
<rect x="420.42" y="390.90" width="6.15" height="20.80" fill="#8ad8fa"/><line x1="420.42" y1="392.86" x2="422.70" y2="390.90" stroke="#000" stroke-width="1.40"/><line x1="420.42" y1="400.48" x2="426.57" y2="395.19" stroke="#000" stroke-width="1.40"/><line x1="420.42" y1="408.10" x2="426.57" y2="402.81" stroke="#000" stroke-width="1.40"/><line x1="425.09" y1="411.70" x2="426.57" y2="410.43" stroke="#000" stroke-width="1.40"/><rect x="420.42" y="390.90" width="6.15" height="20.80" fill="none" stroke="#000" stroke-width="1.35"/><line x1="423.49" y1="390.90" x2="423.49" y2="390.90" stroke="#000" stroke-width="1.2"/><line x1="419.19" y1="390.90" x2="427.79" y2="390.90" stroke="#000" stroke-width="1.4"/><line x1="419.19" y1="390.90" x2="427.79" y2="390.90" stroke="#000" stroke-width="1.4"/>
<rect x="426.57" y="396.00" width="6.15" height="15.70" fill="#bf6cfa"/><line x1="426.57" y1="402.00" x2="432.72" y2="402.00" stroke="#000" stroke-width="1.60"/><line x1="426.57" y1="408.10" x2="432.72" y2="408.10" stroke="#000" stroke-width="1.60"/><rect x="426.57" y="396.00" width="6.15" height="15.70" fill="none" stroke="#000" stroke-width="1.35"/><line x1="429.64" y1="396.00" x2="429.64" y2="396.00" stroke="#000" stroke-width="1.2"/><line x1="425.34" y1="396.00" x2="433.94" y2="396.00" stroke="#000" stroke-width="1.4"/><line x1="425.34" y1="396.00" x2="433.94" y2="396.00" stroke="#000" stroke-width="1.4"/>
<rect x="432.72" y="367.10" width="6.15" height="44.60" fill="#8c6a1e"/><line x1="435.28" y1="367.10" x2="438.87" y2="370.19" stroke="#000" stroke-width="1.40"/><line x1="432.72" y1="372.52" x2="438.87" y2="377.81" stroke="#000" stroke-width="1.40"/><line x1="432.72" y1="380.14" x2="438.87" y2="385.43" stroke="#000" stroke-width="1.40"/><line x1="432.72" y1="387.76" x2="438.87" y2="393.05" stroke="#000" stroke-width="1.40"/><line x1="432.72" y1="395.38" x2="438.87" y2="400.67" stroke="#000" stroke-width="1.40"/><line x1="432.72" y1="403.00" x2="438.87" y2="408.29" stroke="#000" stroke-width="1.40"/><line x1="432.72" y1="410.62" x2="433.98" y2="411.70" stroke="#000" stroke-width="1.40"/><rect x="432.72" y="367.10" width="6.15" height="44.60" fill="none" stroke="#000" stroke-width="1.35"/><line x1="435.79" y1="367.10" x2="435.79" y2="367.10" stroke="#000" stroke-width="1.2"/><line x1="431.49" y1="367.10" x2="440.09" y2="367.10" stroke="#000" stroke-width="1.4"/><line x1="431.49" y1="367.10" x2="440.09" y2="367.10" stroke="#000" stroke-width="1.4"/>
<rect x="454.45" y="389.70" width="6.15" height="22.00" fill="#3cf014"/><rect x="454.45" y="389.70" width="6.15" height="22.00" fill="none" stroke="#000" stroke-width="1.35"/><line x1="457.53" y1="382.00" x2="457.53" y2="397.50" stroke="#000" stroke-width="1.2"/><line x1="453.23" y1="382.00" x2="461.83" y2="382.00" stroke="#000" stroke-width="1.4"/><line x1="453.23" y1="397.50" x2="461.83" y2="397.50" stroke="#000" stroke-width="1.4"/>
<rect x="460.60" y="388.50" width="6.15" height="23.20" fill="#8ad8fa"/><line x1="460.60" y1="392.86" x2="465.67" y2="388.50" stroke="#000" stroke-width="1.40"/><line x1="460.60" y1="400.48" x2="466.75" y2="395.19" stroke="#000" stroke-width="1.40"/><line x1="460.60" y1="408.10" x2="466.75" y2="402.81" stroke="#000" stroke-width="1.40"/><line x1="465.28" y1="411.70" x2="466.75" y2="410.43" stroke="#000" stroke-width="1.40"/><rect x="460.60" y="388.50" width="6.15" height="23.20" fill="none" stroke="#000" stroke-width="1.35"/><line x1="463.68" y1="384.50" x2="463.68" y2="392.50" stroke="#000" stroke-width="1.2"/><line x1="459.38" y1="384.50" x2="467.98" y2="384.50" stroke="#000" stroke-width="1.4"/><line x1="459.38" y1="392.50" x2="467.98" y2="392.50" stroke="#000" stroke-width="1.4"/>
<rect x="466.75" y="396.00" width="6.15" height="15.70" fill="#bf6cfa"/><line x1="466.75" y1="402.00" x2="472.90" y2="402.00" stroke="#000" stroke-width="1.60"/><line x1="466.75" y1="408.10" x2="472.90" y2="408.10" stroke="#000" stroke-width="1.60"/><rect x="466.75" y="396.00" width="6.15" height="15.70" fill="none" stroke="#000" stroke-width="1.35"/><line x1="469.83" y1="393.50" x2="469.83" y2="398.50" stroke="#000" stroke-width="1.2"/><line x1="465.53" y1="393.50" x2="474.13" y2="393.50" stroke="#000" stroke-width="1.4"/><line x1="465.53" y1="398.50" x2="474.13" y2="398.50" stroke="#000" stroke-width="1.4"/>
<rect x="472.90" y="369.20" width="6.15" height="42.50" fill="#8c6a1e"/><line x1="477.90" y1="369.20" x2="479.05" y2="370.19" stroke="#000" stroke-width="1.40"/><line x1="472.90" y1="372.52" x2="479.05" y2="377.81" stroke="#000" stroke-width="1.40"/><line x1="472.90" y1="380.14" x2="479.05" y2="385.43" stroke="#000" stroke-width="1.40"/><line x1="472.90" y1="387.76" x2="479.05" y2="393.05" stroke="#000" stroke-width="1.40"/><line x1="472.90" y1="395.38" x2="479.05" y2="400.67" stroke="#000" stroke-width="1.40"/><line x1="472.90" y1="403.00" x2="479.05" y2="408.29" stroke="#000" stroke-width="1.40"/><line x1="472.90" y1="410.62" x2="474.16" y2="411.70" stroke="#000" stroke-width="1.40"/><rect x="472.90" y="369.20" width="6.15" height="42.50" fill="none" stroke="#000" stroke-width="1.35"/><line x1="475.98" y1="366.40" x2="475.98" y2="372.10" stroke="#000" stroke-width="1.2"/><line x1="471.68" y1="366.40" x2="480.28" y2="366.40" stroke="#000" stroke-width="1.4"/><line x1="471.68" y1="372.10" x2="480.28" y2="372.10" stroke="#000" stroke-width="1.4"/>
<rect x="494.64" y="407.40" width="6.15" height="4.30" fill="#3cf014"/><rect x="494.64" y="407.40" width="6.15" height="4.30" fill="none" stroke="#000" stroke-width="1.35"/><line x1="497.71" y1="406.60" x2="497.71" y2="408.20" stroke="#000" stroke-width="1.2"/><line x1="493.41" y1="406.60" x2="502.01" y2="406.60" stroke="#000" stroke-width="1.4"/><line x1="493.41" y1="408.20" x2="502.01" y2="408.20" stroke="#000" stroke-width="1.4"/>
<rect x="500.79" y="288.50" width="6.15" height="123.20" fill="#8ad8fa"/><line x1="500.79" y1="293.80" x2="506.94" y2="288.51" stroke="#000" stroke-width="1.40"/><line x1="500.79" y1="301.42" x2="506.94" y2="296.13" stroke="#000" stroke-width="1.40"/><line x1="500.79" y1="309.04" x2="506.94" y2="303.75" stroke="#000" stroke-width="1.40"/><line x1="500.79" y1="316.66" x2="506.94" y2="311.37" stroke="#000" stroke-width="1.40"/><line x1="500.79" y1="324.28" x2="506.94" y2="318.99" stroke="#000" stroke-width="1.40"/><line x1="500.79" y1="331.90" x2="506.94" y2="326.61" stroke="#000" stroke-width="1.40"/><line x1="500.79" y1="339.52" x2="506.94" y2="334.23" stroke="#000" stroke-width="1.40"/><line x1="500.79" y1="347.14" x2="506.94" y2="341.85" stroke="#000" stroke-width="1.40"/><line x1="500.79" y1="354.76" x2="506.94" y2="349.47" stroke="#000" stroke-width="1.40"/><line x1="500.79" y1="362.38" x2="506.94" y2="357.09" stroke="#000" stroke-width="1.40"/><line x1="500.79" y1="370.00" x2="506.94" y2="364.71" stroke="#000" stroke-width="1.40"/><line x1="500.79" y1="377.62" x2="506.94" y2="372.33" stroke="#000" stroke-width="1.40"/><line x1="500.79" y1="385.24" x2="506.94" y2="379.95" stroke="#000" stroke-width="1.40"/><line x1="500.79" y1="392.86" x2="506.94" y2="387.57" stroke="#000" stroke-width="1.40"/><line x1="500.79" y1="400.48" x2="506.94" y2="395.19" stroke="#000" stroke-width="1.40"/><line x1="500.79" y1="408.10" x2="506.94" y2="402.81" stroke="#000" stroke-width="1.40"/><line x1="505.46" y1="411.70" x2="506.94" y2="410.43" stroke="#000" stroke-width="1.40"/><rect x="500.79" y="288.50" width="6.15" height="123.20" fill="none" stroke="#000" stroke-width="1.35"/><line x1="503.86" y1="287.80" x2="503.86" y2="289.40" stroke="#000" stroke-width="1.2"/><line x1="499.56" y1="287.80" x2="508.16" y2="287.80" stroke="#000" stroke-width="1.4"/><line x1="499.56" y1="289.40" x2="508.16" y2="289.40" stroke="#000" stroke-width="1.4"/>
<rect x="506.94" y="372.30" width="6.15" height="39.40" fill="#bf6cfa"/><line x1="506.94" y1="377.60" x2="513.09" y2="377.60" stroke="#000" stroke-width="1.60"/><line x1="506.94" y1="383.70" x2="513.09" y2="383.70" stroke="#000" stroke-width="1.60"/><line x1="506.94" y1="389.80" x2="513.09" y2="389.80" stroke="#000" stroke-width="1.60"/><line x1="506.94" y1="395.90" x2="513.09" y2="395.90" stroke="#000" stroke-width="1.60"/><line x1="506.94" y1="402.00" x2="513.09" y2="402.00" stroke="#000" stroke-width="1.60"/><line x1="506.94" y1="408.10" x2="513.09" y2="408.10" stroke="#000" stroke-width="1.60"/><rect x="506.94" y="372.30" width="6.15" height="39.40" fill="none" stroke="#000" stroke-width="1.35"/><line x1="510.01" y1="372.30" x2="510.01" y2="372.30" stroke="#000" stroke-width="1.2"/><line x1="505.71" y1="372.30" x2="514.31" y2="372.30" stroke="#000" stroke-width="1.4"/><line x1="505.71" y1="372.30" x2="514.31" y2="372.30" stroke="#000" stroke-width="1.4"/>
<rect x="513.09" y="358.30" width="6.15" height="53.40" fill="#8c6a1e"/><line x1="514.27" y1="358.30" x2="519.24" y2="362.57" stroke="#000" stroke-width="1.40"/><line x1="513.09" y1="364.90" x2="519.24" y2="370.19" stroke="#000" stroke-width="1.40"/><line x1="513.09" y1="372.52" x2="519.24" y2="377.81" stroke="#000" stroke-width="1.40"/><line x1="513.09" y1="380.14" x2="519.24" y2="385.43" stroke="#000" stroke-width="1.40"/><line x1="513.09" y1="387.76" x2="519.24" y2="393.05" stroke="#000" stroke-width="1.40"/><line x1="513.09" y1="395.38" x2="519.24" y2="400.67" stroke="#000" stroke-width="1.40"/><line x1="513.09" y1="403.00" x2="519.24" y2="408.29" stroke="#000" stroke-width="1.40"/><line x1="513.09" y1="410.62" x2="514.34" y2="411.70" stroke="#000" stroke-width="1.40"/><rect x="513.09" y="358.30" width="6.15" height="53.40" fill="none" stroke="#000" stroke-width="1.35"/><line x1="516.16" y1="357.60" x2="516.16" y2="359.00" stroke="#000" stroke-width="1.2"/><line x1="511.86" y1="357.60" x2="520.46" y2="357.60" stroke="#000" stroke-width="1.4"/><line x1="511.86" y1="359.00" x2="520.46" y2="359.00" stroke="#000" stroke-width="1.4"/>
<rect x="534.82" y="389.00" width="6.15" height="22.70" fill="#3cf014"/><rect x="534.82" y="389.00" width="6.15" height="22.70" fill="none" stroke="#000" stroke-width="1.35"/><line x1="537.90" y1="368.10" x2="537.90" y2="409.90" stroke="#000" stroke-width="1.2"/><line x1="533.60" y1="368.10" x2="542.20" y2="368.10" stroke="#000" stroke-width="1.4"/><line x1="533.60" y1="409.90" x2="542.20" y2="409.90" stroke="#000" stroke-width="1.4"/>
<rect x="540.97" y="389.00" width="6.15" height="22.70" fill="#8ad8fa"/><line x1="540.97" y1="392.86" x2="545.46" y2="389.00" stroke="#000" stroke-width="1.40"/><line x1="540.97" y1="400.48" x2="547.12" y2="395.19" stroke="#000" stroke-width="1.40"/><line x1="540.97" y1="408.10" x2="547.12" y2="402.81" stroke="#000" stroke-width="1.40"/><line x1="545.65" y1="411.70" x2="547.12" y2="410.43" stroke="#000" stroke-width="1.40"/><rect x="540.97" y="389.00" width="6.15" height="22.70" fill="none" stroke="#000" stroke-width="1.35"/><line x1="544.05" y1="352.70" x2="544.05" y2="425.00" stroke="#000" stroke-width="1.2"/><line x1="539.75" y1="352.70" x2="548.35" y2="352.70" stroke="#000" stroke-width="1.4"/><line x1="539.75" y1="425.00" x2="548.35" y2="425.00" stroke="#000" stroke-width="1.4"/>
<rect x="553.27" y="331.20" width="6.15" height="80.50" fill="#8c6a1e"/><line x1="558.39" y1="331.20" x2="559.42" y2="332.09" stroke="#000" stroke-width="1.40"/><line x1="553.27" y1="334.42" x2="559.42" y2="339.71" stroke="#000" stroke-width="1.40"/><line x1="553.27" y1="342.04" x2="559.42" y2="347.33" stroke="#000" stroke-width="1.40"/><line x1="553.27" y1="349.66" x2="559.42" y2="354.95" stroke="#000" stroke-width="1.40"/><line x1="553.27" y1="357.28" x2="559.42" y2="362.57" stroke="#000" stroke-width="1.40"/><line x1="553.27" y1="364.90" x2="559.42" y2="370.19" stroke="#000" stroke-width="1.40"/><line x1="553.27" y1="372.52" x2="559.42" y2="377.81" stroke="#000" stroke-width="1.40"/><line x1="553.27" y1="380.14" x2="559.42" y2="385.43" stroke="#000" stroke-width="1.40"/><line x1="553.27" y1="387.76" x2="559.42" y2="393.05" stroke="#000" stroke-width="1.40"/><line x1="553.27" y1="395.38" x2="559.42" y2="400.67" stroke="#000" stroke-width="1.40"/><line x1="553.27" y1="403.00" x2="559.42" y2="408.29" stroke="#000" stroke-width="1.40"/><line x1="553.27" y1="410.62" x2="554.53" y2="411.70" stroke="#000" stroke-width="1.40"/><rect x="553.27" y="331.20" width="6.15" height="80.50" fill="none" stroke="#000" stroke-width="1.35"/><line x1="556.35" y1="303.20" x2="556.35" y2="359.40" stroke="#000" stroke-width="1.2"/><line x1="552.05" y1="303.20" x2="560.65" y2="303.20" stroke="#000" stroke-width="1.4"/><line x1="552.05" y1="359.40" x2="560.65" y2="359.40" stroke="#000" stroke-width="1.4"/>
<rect x="575.01" y="388.70" width="6.15" height="23.00" fill="#3cf014"/><rect x="575.01" y="388.70" width="6.15" height="23.00" fill="none" stroke="#000" stroke-width="1.35"/><line x1="578.08" y1="380.50" x2="578.08" y2="396.70" stroke="#000" stroke-width="1.2"/><line x1="573.78" y1="380.50" x2="582.38" y2="380.50" stroke="#000" stroke-width="1.4"/><line x1="573.78" y1="396.70" x2="582.38" y2="396.70" stroke="#000" stroke-width="1.4"/>
<rect x="581.16" y="388.20" width="6.15" height="23.50" fill="#8ad8fa"/><line x1="581.16" y1="392.86" x2="586.58" y2="388.20" stroke="#000" stroke-width="1.40"/><line x1="581.16" y1="400.48" x2="587.31" y2="395.19" stroke="#000" stroke-width="1.40"/><line x1="581.16" y1="408.10" x2="587.31" y2="402.81" stroke="#000" stroke-width="1.40"/><line x1="585.83" y1="411.70" x2="587.31" y2="410.43" stroke="#000" stroke-width="1.40"/><rect x="581.16" y="388.20" width="6.15" height="23.50" fill="none" stroke="#000" stroke-width="1.35"/><line x1="584.23" y1="382.30" x2="584.23" y2="394.00" stroke="#000" stroke-width="1.2"/><line x1="579.93" y1="382.30" x2="588.53" y2="382.30" stroke="#000" stroke-width="1.4"/><line x1="579.93" y1="394.00" x2="588.53" y2="394.00" stroke="#000" stroke-width="1.4"/>
<rect x="587.31" y="399.20" width="6.15" height="12.50" fill="#bf6cfa"/><line x1="587.31" y1="402.00" x2="593.46" y2="402.00" stroke="#000" stroke-width="1.60"/><line x1="587.31" y1="408.10" x2="593.46" y2="408.10" stroke="#000" stroke-width="1.60"/><rect x="587.31" y="399.20" width="6.15" height="12.50" fill="none" stroke="#000" stroke-width="1.35"/><line x1="590.38" y1="389.20" x2="590.38" y2="409.20" stroke="#000" stroke-width="1.2"/><line x1="586.08" y1="389.20" x2="594.68" y2="389.20" stroke="#000" stroke-width="1.4"/><line x1="586.08" y1="409.20" x2="594.68" y2="409.20" stroke="#000" stroke-width="1.4"/>
<rect x="593.46" y="393.40" width="6.15" height="18.30" fill="#8c6a1e"/><line x1="593.46" y1="395.38" x2="599.61" y2="400.67" stroke="#000" stroke-width="1.40"/><line x1="593.46" y1="403.00" x2="599.61" y2="408.29" stroke="#000" stroke-width="1.40"/><line x1="593.46" y1="410.62" x2="594.71" y2="411.70" stroke="#000" stroke-width="1.40"/><rect x="593.46" y="393.40" width="6.15" height="18.30" fill="none" stroke="#000" stroke-width="1.35"/><line x1="596.53" y1="387.10" x2="596.53" y2="399.50" stroke="#000" stroke-width="1.2"/><line x1="592.23" y1="387.10" x2="600.83" y2="387.10" stroke="#000" stroke-width="1.4"/><line x1="592.23" y1="399.50" x2="600.83" y2="399.50" stroke="#000" stroke-width="1.4"/>
<line x1="466.75" y1="388.90" x2="466.75" y2="403.00" stroke="#f08228" stroke-width="1.2"/><line x1="462.55" y1="388.90" x2="470.95" y2="388.90" stroke="#f08228" stroke-width="1.2"/>
<polygon points="105.09,360.40 107.14,366.08 113.18,366.27 108.41,369.98 110.09,375.78 105.09,372.38 100.10,375.78 101.78,369.98 97.01,366.27 103.04,366.08" fill="#f08228" stroke="none"/>
<polygon points="145.28,310.40 147.33,316.08 153.36,316.27 148.59,319.98 150.27,325.78 145.28,322.38 140.28,325.78 141.96,319.98 137.19,316.27 143.23,316.08" fill="#f08228" stroke="none"/>
<polygon points="185.46,403.00 187.51,408.68 193.55,408.87 188.78,412.58 190.46,418.38 185.46,414.99 180.47,418.38 182.15,412.58 177.38,408.87 183.41,408.68" fill="#f08228" stroke="none"/>
<polygon points="225.65,359.90 227.69,365.58 233.73,365.77 228.96,369.48 230.64,375.28 225.65,371.88 220.65,375.28 222.33,369.48 217.56,365.77 223.60,365.58" fill="#f08228" stroke="none"/>
<polygon points="265.83,390.60 267.88,396.28 273.91,396.47 269.15,400.18 270.83,405.98 265.83,402.59 260.83,405.98 262.52,400.18 257.75,396.47 263.78,396.28" fill="#f08228" stroke="none"/>
<polygon points="306.02,361.30 308.06,366.98 314.10,367.17 309.33,370.88 311.01,376.68 306.02,373.29 301.02,376.68 302.70,370.88 297.93,367.17 303.97,366.98" fill="#f08228" stroke="none"/>
<polygon points="386.38,290.10 388.43,295.78 394.47,295.97 389.70,299.68 391.38,305.48 386.38,302.09 381.39,305.48 383.07,299.68 378.30,295.97 384.34,295.78" fill="#f08228" stroke="none"/>
<polygon points="426.57,324.90 428.62,330.58 434.65,330.77 429.88,334.48 431.57,340.28 426.57,336.88 421.57,340.28 423.25,334.48 418.49,330.77 424.52,330.58" fill="#f08228" stroke="none"/>
<polygon points="466.75,394.70 468.80,400.38 474.84,400.57 470.07,404.28 471.75,410.08 466.75,406.69 461.76,410.08 463.44,404.28 458.67,400.57 464.71,400.38" fill="#f08228" stroke="none"/>
<polygon points="506.94,403.40 508.99,409.08 515.02,409.27 510.25,412.98 511.93,418.78 506.94,415.38 501.94,418.78 503.62,412.98 498.85,409.27 504.89,409.08" fill="#f08228" stroke="none"/>
<polygon points="547.12,404.10 549.17,409.78 555.21,409.97 550.44,413.68 552.12,419.48 547.12,416.09 542.13,419.48 543.81,413.68 539.04,409.97 545.07,409.78" fill="#f08228" stroke="none"/>
<polygon points="587.31,399.90 589.36,405.58 595.39,405.77 590.62,409.48 592.30,415.28 587.31,411.88 582.31,415.28 583.99,409.48 579.22,405.77 585.26,405.58" fill="#f08228" stroke="none"/>
</g>
<rect x="85.00" y="8.40" width="522.40" height="179.70" fill="none" stroke="#000" stroke-width="1.40"/>
<line x1="85.00" y1="188.10" x2="85.00" y2="195.50" stroke="#000" stroke-width="1.30"/>
<line x1="125.18" y1="188.10" x2="125.18" y2="195.50" stroke="#000" stroke-width="1.30"/>
<line x1="165.37" y1="188.10" x2="165.37" y2="195.50" stroke="#000" stroke-width="1.30"/>
<line x1="205.55" y1="188.10" x2="205.55" y2="195.50" stroke="#000" stroke-width="1.30"/>
<line x1="245.74" y1="188.10" x2="245.74" y2="195.50" stroke="#000" stroke-width="1.30"/>
<line x1="285.92" y1="188.10" x2="285.92" y2="195.50" stroke="#000" stroke-width="1.30"/>
<line x1="326.11" y1="188.10" x2="326.11" y2="195.50" stroke="#000" stroke-width="1.30"/>
<line x1="366.29" y1="188.10" x2="366.29" y2="195.50" stroke="#000" stroke-width="1.30"/>
<line x1="406.48" y1="188.10" x2="406.48" y2="195.50" stroke="#000" stroke-width="1.30"/>
<line x1="446.66" y1="188.10" x2="446.66" y2="195.50" stroke="#000" stroke-width="1.30"/>
<line x1="486.85" y1="188.10" x2="486.85" y2="195.50" stroke="#000" stroke-width="1.30"/>
<line x1="527.03" y1="188.10" x2="527.03" y2="195.50" stroke="#000" stroke-width="1.30"/>
<line x1="567.22" y1="188.10" x2="567.22" y2="195.50" stroke="#000" stroke-width="1.30"/>
<line x1="607.40" y1="188.10" x2="607.40" y2="195.50" stroke="#000" stroke-width="1.30"/>
<rect x="85.00" y="232.10" width="522.40" height="179.60" fill="none" stroke="#000" stroke-width="1.40"/>
<line x1="85.00" y1="411.70" x2="85.00" y2="419.10" stroke="#000" stroke-width="1.30"/>
<line x1="125.18" y1="411.70" x2="125.18" y2="419.10" stroke="#000" stroke-width="1.30"/>
<line x1="165.37" y1="411.70" x2="165.37" y2="419.10" stroke="#000" stroke-width="1.30"/>
<line x1="205.55" y1="411.70" x2="205.55" y2="419.10" stroke="#000" stroke-width="1.30"/>
<line x1="245.74" y1="411.70" x2="245.74" y2="419.10" stroke="#000" stroke-width="1.30"/>
<line x1="285.92" y1="411.70" x2="285.92" y2="419.10" stroke="#000" stroke-width="1.30"/>
<line x1="326.11" y1="411.70" x2="326.11" y2="419.10" stroke="#000" stroke-width="1.30"/>
<line x1="366.29" y1="411.70" x2="366.29" y2="419.10" stroke="#000" stroke-width="1.30"/>
<line x1="406.48" y1="411.70" x2="406.48" y2="419.10" stroke="#000" stroke-width="1.30"/>
<line x1="446.66" y1="411.70" x2="446.66" y2="419.10" stroke="#000" stroke-width="1.30"/>
<line x1="486.85" y1="411.70" x2="486.85" y2="419.10" stroke="#000" stroke-width="1.30"/>
<line x1="527.03" y1="411.70" x2="527.03" y2="419.10" stroke="#000" stroke-width="1.30"/>
<line x1="567.22" y1="411.70" x2="567.22" y2="419.10" stroke="#000" stroke-width="1.30"/>
<line x1="607.40" y1="411.70" x2="607.40" y2="419.10" stroke="#000" stroke-width="1.30"/>
<line x1="77.00" y1="8.40" x2="85.00" y2="8.40" stroke="#000" stroke-width="1.30"/>
<line x1="80.30" y1="39.80" x2="85.00" y2="39.80" stroke="#000" stroke-width="1.30"/>
<line x1="80.30" y1="26.28" x2="85.00" y2="26.28" stroke="#000" stroke-width="1.30"/>
<line x1="80.30" y1="18.37" x2="85.00" y2="18.37" stroke="#000" stroke-width="1.30"/>
<line x1="80.30" y1="12.75" x2="85.00" y2="12.75" stroke="#000" stroke-width="1.30"/>
<line x1="77.00" y1="53.32" x2="85.00" y2="53.32" stroke="#000" stroke-width="1.30"/>
<line x1="80.30" y1="84.73" x2="85.00" y2="84.73" stroke="#000" stroke-width="1.30"/>
<line x1="80.30" y1="71.20" x2="85.00" y2="71.20" stroke="#000" stroke-width="1.30"/>
<line x1="80.30" y1="63.29" x2="85.00" y2="63.29" stroke="#000" stroke-width="1.30"/>
<line x1="80.30" y1="57.68" x2="85.00" y2="57.68" stroke="#000" stroke-width="1.30"/>
<line x1="77.00" y1="98.25" x2="85.00" y2="98.25" stroke="#000" stroke-width="1.30"/>
<line x1="80.30" y1="129.65" x2="85.00" y2="129.65" stroke="#000" stroke-width="1.30"/>
<line x1="80.30" y1="116.13" x2="85.00" y2="116.13" stroke="#000" stroke-width="1.30"/>
<line x1="80.30" y1="108.22" x2="85.00" y2="108.22" stroke="#000" stroke-width="1.30"/>
<line x1="80.30" y1="102.60" x2="85.00" y2="102.60" stroke="#000" stroke-width="1.30"/>
<line x1="77.00" y1="143.17" x2="85.00" y2="143.17" stroke="#000" stroke-width="1.30"/>
<line x1="80.30" y1="174.58" x2="85.00" y2="174.58" stroke="#000" stroke-width="1.30"/>
<line x1="80.30" y1="161.05" x2="85.00" y2="161.05" stroke="#000" stroke-width="1.30"/>
<line x1="80.30" y1="153.14" x2="85.00" y2="153.14" stroke="#000" stroke-width="1.30"/>
<line x1="80.30" y1="147.53" x2="85.00" y2="147.53" stroke="#000" stroke-width="1.30"/>
<line x1="77.00" y1="188.10" x2="85.00" y2="188.10" stroke="#000" stroke-width="1.30"/>
<line x1="77.00" y1="232.10" x2="85.00" y2="232.10" stroke="#000" stroke-width="1.30"/>
<line x1="80.30" y1="254.55" x2="85.00" y2="254.55" stroke="#000" stroke-width="1.30"/>
<line x1="77.00" y1="277.00" x2="85.00" y2="277.00" stroke="#000" stroke-width="1.30"/>
<line x1="80.30" y1="299.45" x2="85.00" y2="299.45" stroke="#000" stroke-width="1.30"/>
<line x1="77.00" y1="321.90" x2="85.00" y2="321.90" stroke="#000" stroke-width="1.30"/>
<line x1="80.30" y1="344.35" x2="85.00" y2="344.35" stroke="#000" stroke-width="1.30"/>
<line x1="77.00" y1="366.80" x2="85.00" y2="366.80" stroke="#000" stroke-width="1.30"/>
<line x1="80.30" y1="389.25" x2="85.00" y2="389.25" stroke="#000" stroke-width="1.30"/>
<line x1="77.00" y1="411.70" x2="85.00" y2="411.70" stroke="#000" stroke-width="1.30"/>
<g font-family="Liberation Sans, sans-serif" fill="#000" stroke="#000" stroke-width="0.3">
<text transform="translate(71.90,13.40) scale(1.050,1)" text-anchor="end" font-size="16.00" >100</text>
<text transform="translate(71.90,58.32) scale(1.050,1)" text-anchor="end" font-size="16.00" >10</text>
<text transform="translate(71.90,103.25) scale(1.050,1)" text-anchor="end" font-size="16.00" >1</text>
<text transform="translate(71.90,148.17) scale(1.050,1)" text-anchor="end" font-size="16.00" >0.1</text>
<text transform="translate(71.90,193.10) scale(1.050,1)" text-anchor="end" font-size="16.00" >0.01</text>
<text transform="translate(71.90,237.10) scale(1.050,1)" text-anchor="end" font-size="16.00" >100%</text>
<text transform="translate(71.90,282.00) scale(1.050,1)" text-anchor="end" font-size="16.00" >75%</text>
<text transform="translate(71.90,326.90) scale(1.050,1)" text-anchor="end" font-size="16.00" >50%</text>
<text transform="translate(71.90,371.80) scale(1.050,1)" text-anchor="end" font-size="16.00" >25%</text>
<text transform="translate(71.90,416.70) scale(1.050,1)" text-anchor="end" font-size="16.00" >0%</text>
<text transform="translate(105.09,205.90) scale(1.050,1)" text-anchor="middle" font-size="16.00" >Mg</text>
<text transform="translate(105.09,429.50) scale(1.050,1)" text-anchor="middle" font-size="16.00" >Mg</text>
<text transform="translate(145.28,205.90) scale(1.050,1)" text-anchor="middle" font-size="16.00" >Al</text>
<text transform="translate(145.28,429.50) scale(1.050,1)" text-anchor="middle" font-size="16.00" >Al</text>
<text transform="translate(185.46,205.90) scale(1.050,1)" text-anchor="middle" font-size="16.00" >Si</text>
<text transform="translate(185.46,429.50) scale(1.050,1)" text-anchor="middle" font-size="16.00" >Si</text>
<text transform="translate(225.65,205.90) scale(1.050,1)" text-anchor="middle" font-size="16.00" >Ca</text>
<text transform="translate(225.65,429.50) scale(1.050,1)" text-anchor="middle" font-size="16.00" >Ca</text>
<text transform="translate(265.83,205.90) scale(1.050,1)" text-anchor="middle" font-size="16.00" >Ti</text>
<text transform="translate(265.83,429.50) scale(1.050,1)" text-anchor="middle" font-size="16.00" >Ti</text>
<text transform="translate(306.02,205.90) scale(1.050,1)" text-anchor="middle" font-size="16.00" >Fe</text>
<text transform="translate(306.02,429.50) scale(1.050,1)" text-anchor="middle" font-size="16.00" >Fe</text>
<text transform="translate(386.38,205.90) scale(1.050,1)" text-anchor="middle" font-size="16.00" >V</text>
<text transform="translate(386.38,429.50) scale(1.050,1)" text-anchor="middle" font-size="16.00" >V</text>
<text transform="translate(426.57,205.90) scale(1.050,1)" text-anchor="middle" font-size="16.00" >Mn</text>
<text transform="translate(426.57,429.50) scale(1.050,1)" text-anchor="middle" font-size="16.00" >Mn</text>
<text transform="translate(466.75,205.90) scale(1.050,1)" text-anchor="middle" font-size="16.00" >Ni</text>
<text transform="translate(466.75,429.50) scale(1.050,1)" text-anchor="middle" font-size="16.00" >Ni</text>
<text transform="translate(506.94,205.90) scale(1.050,1)" text-anchor="middle" font-size="16.00" >Cu</text>
<text transform="translate(506.94,429.50) scale(1.050,1)" text-anchor="middle" font-size="16.00" >Cu</text>
<text transform="translate(547.12,205.90) scale(1.050,1)" text-anchor="middle" font-size="16.00" >Cd</text>
<text transform="translate(547.12,429.50) scale(1.050,1)" text-anchor="middle" font-size="16.00" >Cd</text>
<text transform="translate(587.31,205.90) scale(1.050,1)" text-anchor="middle" font-size="16.00" >Pb</text>
<text transform="translate(587.31,429.50) scale(1.050,1)" text-anchor="middle" font-size="16.00" >Pb</text>
<text transform="translate(596.80,28.20) scale(1.050,1)" text-anchor="end" font-size="16.00" font-weight="bold">a)</text>
<text transform="translate(596.80,251.80) scale(1.050,1)" text-anchor="end" font-size="16.00" font-weight="bold">b)</text>
<text transform="translate(25,98.3) rotate(-90)" text-anchor="middle" font-size="16" font-weight="bold" font-style="italic">D</text>
<text transform="translate(14.4,321.3) rotate(-90) scale(1.07,1)" text-anchor="middle" font-size="16" font-weight="bold"><tspan font-style="italic">R</tspan>%</text>
<rect x="616.6" y="55.00" width="27" height="12.7" fill="#3cf014" stroke="#000" stroke-width="1.2"/><rect x="616.6" y="70.40" width="27" height="12.7" fill="url(#lb)" stroke="#000" stroke-width="1.2"/><rect x="616.6" y="88.20" width="27" height="12.7" fill="#bf6cfa" stroke="#000" stroke-width="1.2"/><line x1="616.6" x2="643.6" y1="94.55" y2="94.55" stroke="#000" stroke-width="1.2"/><rect x="616.6" y="106.10" width="27" height="12.7" fill="url(#lbr)" stroke="#000" stroke-width="1.2"/><polygon points="630.50,118.90 632.55,124.58 638.58,124.77 633.81,128.48 635.50,134.28 630.50,130.89 625.50,134.28 627.19,128.48 622.42,124.77 628.45,124.58" fill="#f08228" stroke="none"/><text transform="translate(647.4,65.50) scale(1.085,1)" font-size="11.40">HCl</text><text transform="translate(647.4,80.80) scale(1.085,1)" font-size="11.40">HNO<tspan font-size="8.3" dy="3.2">3</tspan></text><text transform="translate(647.4,98.50) scale(1.085,1)" font-size="11.40">H<tspan font-size="8.3" dy="3.2">2</tspan><tspan dy="-3.2">SO</tspan><tspan font-size="8.3" dy="3.2">4</tspan></text><text transform="translate(647.4,116.60) scale(1.085,1)" font-size="11.40">Citrate</text><text transform="translate(647.4,131.50) scale(1.085,1)" font-size="11.40">Ash</text>
<rect x="616.6" y="285.00" width="27" height="12.7" fill="#3cf014" stroke="#000" stroke-width="1.2"/><rect x="616.6" y="300.40" width="27" height="12.7" fill="url(#lb)" stroke="#000" stroke-width="1.2"/><rect x="616.6" y="318.20" width="27" height="12.7" fill="#bf6cfa" stroke="#000" stroke-width="1.2"/><line x1="616.6" x2="643.6" y1="324.55" y2="324.55" stroke="#000" stroke-width="1.2"/><rect x="616.6" y="336.10" width="27" height="12.7" fill="url(#lbr)" stroke="#000" stroke-width="1.2"/><polygon points="630.50,348.90 632.55,354.58 638.58,354.77 633.81,358.48 635.50,364.28 630.50,360.88 625.50,364.28 627.19,358.48 622.42,354.77 628.45,354.58" fill="#f08228" stroke="none"/><text transform="translate(647.4,295.50) scale(1.085,1)" font-size="11.40">HCl</text><text transform="translate(647.4,310.80) scale(1.085,1)" font-size="11.40">HNO<tspan font-size="8.3" dy="3.2">3</tspan></text><text transform="translate(647.4,328.50) scale(1.085,1)" font-size="11.40">H<tspan font-size="8.3" dy="3.2">2</tspan><tspan dy="-3.2">SO</tspan><tspan font-size="8.3" dy="3.2">4</tspan></text><text transform="translate(647.4,346.60) scale(1.085,1)" font-size="11.40">Citrate</text><text transform="translate(647.4,361.50) scale(1.085,1)" font-size="11.40">Ash</text>
</g>
</svg></body></html>
